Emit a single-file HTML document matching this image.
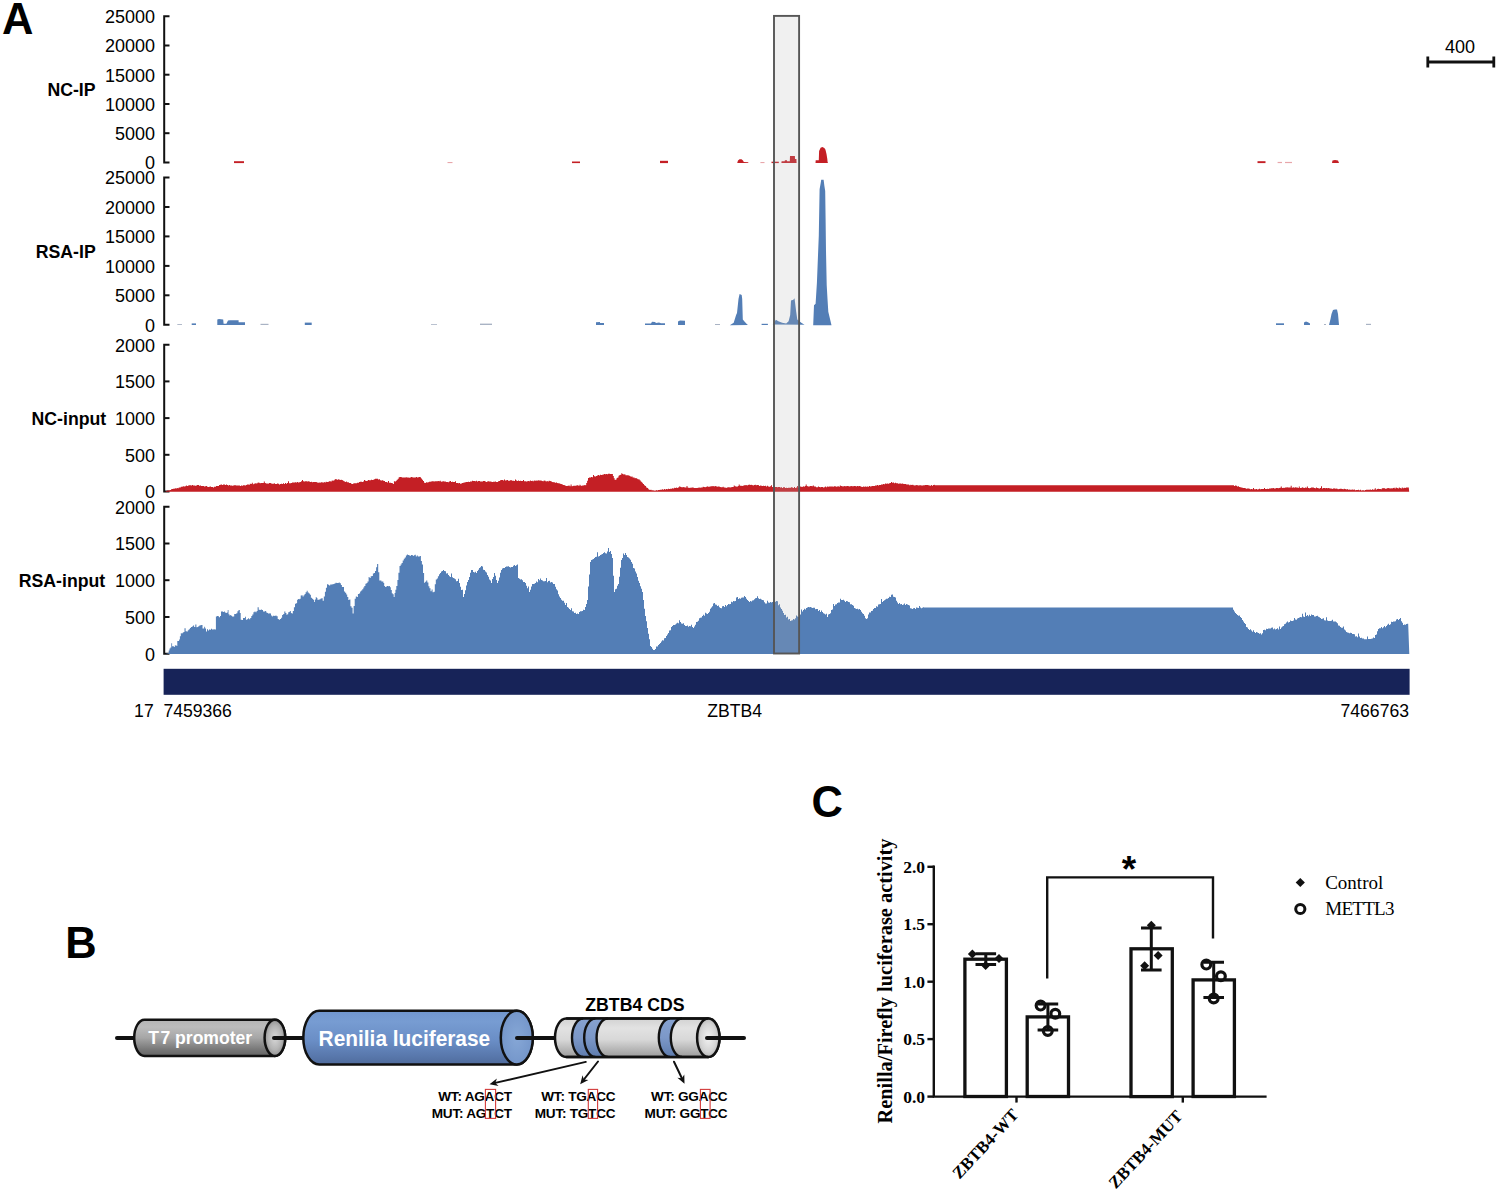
<!DOCTYPE html>
<html><head><meta charset="utf-8"><title>Figure</title>
<style>
html,body{margin:0;padding:0;background:#fff;}
body{width:1499px;height:1196px;overflow:hidden;}
svg{display:block;}
text{font-family:"Liberation Sans",sans-serif;fill:#000;}
.big{font-size:43.5px;font-weight:bold;}
.tl{font-size:18px;text-anchor:end;}
.lab{font-size:17.7px;font-weight:bold;text-anchor:end;}
.cyt{fill:#fff;font-weight:bold;}
.seq{font-size:13.6px;font-weight:bold;text-anchor:end;letter-spacing:-0.25px;}
.ctl{font-family:"Liberation Serif",serif;font-weight:bold;font-size:17.5px;text-anchor:end;}
.cyl{font-family:"Liberation Serif",serif;font-weight:bold;font-size:20.4px;}
.leg{font-family:"Liberation Serif",serif;font-size:19px;}
.xl{font-family:"Liberation Serif",serif;font-weight:bold;font-size:17px;text-anchor:end;}
.star{font-size:37px;font-weight:bold;}
</style></head><body>
<svg width="1499" height="1196" viewBox="0 0 1499 1196">
<defs>
<linearGradient id="gG" x1="0" y1="0" x2="0" y2="1">
 <stop offset="0" stop-color="#b4b4b4"/><stop offset="0.2" stop-color="#bcbcbc"/><stop offset="0.5" stop-color="#a6a6a6"/><stop offset="0.85" stop-color="#747474"/><stop offset="1" stop-color="#646464"/>
</linearGradient>
<radialGradient id="rG" cx="0.5" cy="0.5" r="0.6">
 <stop offset="0" stop-color="#d8d8d8"/><stop offset="0.55" stop-color="#b4b4b4"/><stop offset="1" stop-color="#808080"/>
</radialGradient>
<linearGradient id="gB" x1="0" y1="0" x2="0" y2="1">
 <stop offset="0" stop-color="#7196ce"/><stop offset="0.2" stop-color="#779cd2"/><stop offset="0.55" stop-color="#6a8ec6"/><stop offset="0.85" stop-color="#5877ab"/><stop offset="1" stop-color="#4f6b9c"/>
</linearGradient>
<radialGradient id="rB" cx="0.5" cy="0.5" r="0.6">
 <stop offset="0" stop-color="#86a7d6"/><stop offset="1" stop-color="#7193c8"/>
</radialGradient>
<linearGradient id="gL" x1="0" y1="0" x2="0" y2="1">
 <stop offset="0" stop-color="#d2d2d2"/><stop offset="0.25" stop-color="#e2e2e2"/><stop offset="0.55" stop-color="#d8d8d8"/><stop offset="0.85" stop-color="#b0b0b0"/><stop offset="1" stop-color="#9c9c9c"/>
</linearGradient>
<radialGradient id="rL" cx="0.5" cy="0.5" r="0.6">
 <stop offset="0" stop-color="#f2f2f2"/><stop offset="0.6" stop-color="#d4d4d4"/><stop offset="1" stop-color="#a8a8a8"/>
</radialGradient>
<linearGradient id="gBand" x1="0" y1="0" x2="0" y2="1">
 <stop offset="0" stop-color="#86a2d0"/><stop offset="0.5" stop-color="#7c98c8"/><stop offset="1" stop-color="#5f7cae"/>
</linearGradient>
</defs>
<text x="2" y="33.6" class="big">A</text>
<text x="1460" y="53.4" class="tl" style="text-anchor:middle">400</text>
<path d="M1426.5 62 H1494.5 M1427.8 56.5 V67.5 M1493.8 56.5 V67.5" stroke="#111" stroke-width="2.8" fill="none"/>
<path d="M169.5 16.2 H164.2 V162.5 H169.5" fill="none" stroke="#111" stroke-width="2"/>
<path d="M164 45.5 H169.5" stroke="#111" stroke-width="2"/>
<path d="M164 74.7 H169.5" stroke="#111" stroke-width="2"/>
<path d="M164 104.0 H169.5" stroke="#111" stroke-width="2"/>
<path d="M164 133.2 H169.5" stroke="#111" stroke-width="2"/>
<text x="155" y="23.0" class="tl">25000</text>
<text x="155" y="52.3" class="tl">20000</text>
<text x="155" y="81.5" class="tl">15000</text>
<text x="155" y="110.8" class="tl">10000</text>
<text x="155" y="140.0" class="tl">5000</text>
<text x="155" y="169.3" class="tl">0</text>
<path d="M169.5 177.6 H164.2 V324.7 H169.5" fill="none" stroke="#111" stroke-width="2"/>
<path d="M164 207.0 H169.5" stroke="#111" stroke-width="2"/>
<path d="M164 236.4 H169.5" stroke="#111" stroke-width="2"/>
<path d="M164 265.9 H169.5" stroke="#111" stroke-width="2"/>
<path d="M164 295.3 H169.5" stroke="#111" stroke-width="2"/>
<text x="155" y="184.4" class="tl">25000</text>
<text x="155" y="213.8" class="tl">20000</text>
<text x="155" y="243.2" class="tl">15000</text>
<text x="155" y="272.7" class="tl">10000</text>
<text x="155" y="302.1" class="tl">5000</text>
<text x="155" y="331.5" class="tl">0</text>
<path d="M169.5 344.7 H164.2 V491.5 H169.5" fill="none" stroke="#111" stroke-width="2"/>
<path d="M164 381.4 H169.5" stroke="#111" stroke-width="2"/>
<path d="M164 418.1 H169.5" stroke="#111" stroke-width="2"/>
<path d="M164 454.8 H169.5" stroke="#111" stroke-width="2"/>
<text x="155" y="351.5" class="tl">2000</text>
<text x="155" y="388.2" class="tl">1500</text>
<text x="155" y="424.9" class="tl">1000</text>
<text x="155" y="461.6" class="tl">500</text>
<text x="155" y="498.3" class="tl">0</text>
<path d="M169.5 506.7 H164.2 V653.8 H169.5" fill="none" stroke="#111" stroke-width="2"/>
<path d="M164 543.5 H169.5" stroke="#111" stroke-width="2"/>
<path d="M164 580.2 H169.5" stroke="#111" stroke-width="2"/>
<path d="M164 617.0 H169.5" stroke="#111" stroke-width="2"/>
<text x="155" y="513.5" class="tl">2000</text>
<text x="155" y="550.3" class="tl">1500</text>
<text x="155" y="587.0" class="tl">1000</text>
<text x="155" y="623.8" class="tl">500</text>
<text x="155" y="660.6" class="tl">0</text>
<text x="95.6" y="96" class="lab">NC-IP</text>
<text x="95.7" y="258.1" class="lab">RSA-IP</text>
<text x="106.2" y="425" class="lab">NC-input</text>
<text x="105.2" y="587.2" class="lab">RSA-input</text>
<path d="M234.0 163.1 L234.0 161.2 L244.0 161.2 L244.0 163.1 Z" fill="#c41f25"/>
<path d="M572.0 163.1 L572.0 161.5 L580.0 161.5 L580.0 163.1 Z" fill="#c41f25"/>
<path d="M660.0 163.1 L660.0 160.8 L668.0 160.8 L668.0 163.1 Z" fill="#c41f25"/>
<path d="M737.2 163.1 L738.0 160.6 L739.5 159.3 L741.5 159.2 L743.0 160.4 L743.8 162.0 L748.3 162.2 L748.3 163.1 Z" fill="#c41f25"/>
<path d="M771.5 163.1 L771.5 161.7 L778.8 161.7 L778.8 163.1 Z" fill="#c41f25"/>
<path d="M781.4 163.1 L781.6 161.3 L784.7 161.3 L784.9 160.2 L786.9 160.2 L787.1 161.3 L789.8 161.3 L790.0 156.0 L794.9 156.0 L795.0 159.1 L796.4 159.1 L796.6 163.1 Z" fill="#c41f25"/>
<path d="M815.5 163.1 L815.7 160.3 L818.8 160.2 L819.1 151.0 L820.6 147.8 L822.4 147.0 L824.3 147.9 L825.4 149.5 L826.5 154.0 L827.3 159.0 L827.6 162.0 L828.0 163.1 Z" fill="#c41f25"/>
<path d="M1257.5 163.1 L1257.5 161.2 L1265.5 161.2 L1265.5 163.1 Z" fill="#c41f25"/>
<path d="M1332.0 163.1 L1332.5 160.4 L1335.0 160.0 L1338.0 160.4 L1339.0 163.1 Z" fill="#c41f25"/>
<path d="M1277.6 163.1 L1277.6 161.9 L1282.0 161.9 L1282.0 163.1 Z" fill="#e8a6aa"/>
<path d="M1285.0 163.1 L1285.0 161.9 L1292.0 161.9 L1292.0 163.1 Z" fill="#e8a6aa"/>
<path d="M760.4 163.1 L760.4 162.0 L764.5 162.0 L764.5 163.1 Z" fill="#e8a6aa"/>
<path d="M447.5 163.1 L447.5 162.0 L452.5 162.0 L452.5 163.1 Z" fill="#e8a6aa"/>
<path d="M191.7 325.0 L191.7 323.4 L196.0 323.4 L196.0 325.0 Z" fill="#537eb6"/>
<path d="M217.3 325.0 L217.3 319.4 L219.0 319.0 L223.2 319.4 L223.6 323.8 L226.4 323.8 L228.0 320.5 L230.0 320.2 L238.6 320.2 L238.6 322.2 L245.0 322.2 L245.0 325.0 Z" fill="#537eb6"/>
<path d="M304.8 325.0 L304.8 322.6 L311.7 322.6 L311.7 325.0 Z" fill="#537eb6"/>
<path d="M596.0 325.0 L596.0 322.2 L600.0 322.0 L600.0 322.9 L604.0 322.9 L604.0 325.0 Z" fill="#537eb6"/>
<path d="M645.0 325.0 L645.0 323.5 L651.0 323.4 L652.0 321.8 L655.0 322.0 L656.0 323.0 L659.0 322.6 L661.0 323.3 L665.0 323.3 L665.0 325.0 Z" fill="#537eb6"/>
<path d="M678.0 325.0 L678.0 321.6 L680.0 320.6 L685.0 320.8 L685.0 325.0 Z" fill="#537eb6"/>
<path d="M729.8 325.2 L733.7 322.8 L736.1 315.0 L737.0 313.0 L738.5 299.0 L739.6 293.9 L741.7 295.0 L742.2 299.0 L742.8 319.6 L744.9 322.0 L747.3 324.4 L748.0 325.0 Z" fill="#537eb6"/>
<path d="M761.6 325.0 L761.6 323.8 L767.9 323.8 L767.9 325.0 Z" fill="#537eb6"/>
<path d="M772.7 324.4 L775.9 319.8 L778.3 321.2 L782.2 322.8 L786.2 323.6 L788.6 321.2 L790.2 315.0 L791.0 300.6 L793.4 299.8 L794.5 298.2 L795.0 302.0 L796.2 311.7 L797.3 319.6 L801.3 322.8 L804.5 324.7 Z" fill="#537eb6"/>
<path d="M813.2 325.2 L814.0 305.3 L815.6 303.8 L816.9 283.0 L818.8 235.4 L819.6 189.3 L820.7 183.0 L821.2 179.7 L823.6 179.7 L824.4 186.0 L825.2 191.0 L825.6 219.0 L826.0 251.0 L826.7 285.0 L827.5 299.0 L828.3 311.7 L831.5 325.2 Z" fill="#537eb6"/>
<path d="M1276.0 325.0 L1276.0 323.3 L1284.0 323.3 L1284.0 325.0 Z" fill="#537eb6"/>
<path d="M1304.0 325.0 L1304.0 322.5 L1306.0 321.6 L1308.0 322.2 L1310.0 323.5 L1310.0 325.0 Z" fill="#537eb6"/>
<path d="M1329.0 325.0 L1330.5 319.0 L1331.5 314.0 L1333.0 310.0 L1335.0 309.4 L1337.0 309.6 L1338.0 314.0 L1339.0 325.0 Z" fill="#537eb6"/>
<path d="M177.3 325.0 L177.3 324.1 L182.0 324.1 L182.0 325.0 Z" fill="#a9b3c4"/>
<path d="M260.5 325.0 L260.5 323.8 L268.5 323.8 L268.5 325.0 Z" fill="#a9b3c4"/>
<path d="M431.0 325.0 L431.0 324.2 L437.0 324.2 L437.0 325.0 Z" fill="#a9b3c4"/>
<path d="M480.0 325.0 L480.0 323.6 L492.0 323.6 L492.0 325.0 Z" fill="#a9b3c4"/>
<path d="M715.0 325.0 L715.0 324.0 L720.0 324.0 L720.0 325.0 Z" fill="#a9b3c4"/>
<path d="M1324.0 325.0 L1324.0 324.0 L1326.0 324.0 L1326.0 325.0 Z" fill="#a9b3c4"/>
<path d="M1366.0 325.0 L1366.0 323.8 L1371.0 323.8 L1371.0 325.0 Z" fill="#a9b3c4"/>
<path d="M164.0 491.7 L164.0 491.7 L165.0 491.7 L165.0 491.4 L166.0 491.4 L166.0 491.0 L167.0 491.0 L167.0 490.6 L168.0 490.6 L168.0 490.6 L169.0 490.6 L169.0 490.3 L170.0 490.3 L170.0 490.0 L171.0 490.0 L171.0 489.3 L171.9 489.3 L171.9 489.0 L172.9 489.0 L172.9 488.8 L173.9 488.8 L173.9 488.8 L174.8 488.8 L174.8 488.3 L175.8 488.3 L175.8 488.4 L176.8 488.4 L176.8 488.1 L177.7 488.1 L177.7 488.2 L178.7 488.2 L178.7 487.5 L179.7 487.5 L179.7 487.6 L180.8 487.6 L180.8 486.7 L181.8 486.7 L181.8 486.7 L182.8 486.7 L182.8 486.3 L183.8 486.3 L183.8 486.5 L184.9 486.5 L184.9 486.2 L185.9 486.2 L185.9 485.6 L186.9 485.6 L186.9 485.9 L188.0 485.9 L188.0 485.4 L189.0 485.4 L189.0 485.3 L190.0 485.3 L190.0 485.3 L191.0 485.3 L191.0 485.6 L192.0 485.6 L192.0 485.1 L193.0 485.1 L193.0 485.4 L194.0 485.4 L194.0 485.6 L195.0 485.6 L195.0 485.8 L196.0 485.8 L196.0 485.4 L197.0 485.4 L197.0 485.1 L198.0 485.1 L198.0 485.0 L199.0 485.0 L199.0 485.7 L200.0 485.7 L200.0 485.5 L201.0 485.5 L201.0 486.0 L202.0 486.0 L202.0 486.0 L203.0 486.0 L203.0 486.0 L204.0 486.0 L204.0 486.4 L205.0 486.4 L205.0 486.2 L206.0 486.2 L206.0 486.0 L207.0 486.0 L207.0 486.7 L208.0 486.7 L208.0 487.0 L209.0 487.0 L209.0 486.8 L210.0 486.8 L210.0 486.6 L211.0 486.6 L211.0 486.9 L212.0 486.9 L212.0 486.9 L213.0 486.9 L213.0 487.5 L214.0 487.5 L214.0 486.8 L215.0 486.8 L215.0 486.7 L216.0 486.7 L216.0 486.0 L217.0 486.0 L217.0 486.0 L218.0 486.0 L218.0 485.9 L219.0 485.9 L219.0 485.1 L220.0 485.1 L220.0 484.7 L221.0 484.7 L221.0 484.5 L222.0 484.5 L222.0 485.0 L223.0 485.0 L223.0 484.4 L224.0 484.4 L224.0 484.5 L225.0 484.5 L225.0 484.9 L226.0 484.9 L226.0 484.4 L227.0 484.4 L227.0 484.9 L228.0 484.9 L228.0 485.5 L229.0 485.5 L229.0 485.1 L230.0 485.1 L230.0 485.4 L231.0 485.4 L231.0 485.6 L232.0 485.6 L232.0 485.7 L233.0 485.7 L233.0 485.4 L234.0 485.4 L234.0 485.2 L235.0 485.2 L235.0 485.2 L236.0 485.2 L236.0 485.4 L237.0 485.4 L237.0 485.6 L238.0 485.6 L238.0 485.4 L239.0 485.4 L239.0 485.6 L240.0 485.6 L240.0 486.0 L241.0 486.0 L241.0 485.4 L242.0 485.4 L242.0 485.8 L243.0 485.8 L243.0 485.3 L243.9 485.3 L243.9 485.2 L244.9 485.2 L244.9 485.4 L245.9 485.4 L245.9 484.9 L246.9 484.9 L246.9 484.4 L247.9 484.4 L247.9 484.5 L248.9 484.5 L248.9 484.7 L249.8 484.7 L249.8 483.8 L250.8 483.8 L250.8 484.1 L251.8 484.1 L251.8 482.7 L252.8 482.7 L252.8 484.2 L253.8 484.2 L253.8 483.7 L254.8 483.7 L254.8 483.3 L255.7 483.3 L255.7 483.5 L256.7 483.5 L256.7 483.3 L257.7 483.3 L257.7 482.6 L258.7 482.6 L258.7 482.7 L259.7 482.7 L259.7 483.2 L260.7 483.2 L260.7 483.1 L261.7 483.1 L261.7 483.1 L262.8 483.1 L262.8 483.0 L263.8 483.0 L263.8 481.4 L264.8 481.4 L264.8 482.9 L265.8 482.9 L265.8 483.5 L266.8 483.5 L266.8 483.6 L267.8 483.6 L267.8 483.7 L268.8 483.7 L268.8 483.1 L269.9 483.1 L269.9 483.1 L270.9 483.1 L270.9 483.6 L271.9 483.6 L271.9 483.8 L272.9 483.8 L272.9 483.7 L273.9 483.7 L273.9 483.3 L274.9 483.3 L274.9 484.1 L275.9 484.1 L275.9 484.0 L277.0 484.0 L277.0 483.5 L278.0 483.5 L278.0 483.7 L279.0 483.7 L279.0 484.4 L280.0 484.4 L280.0 484.0 L281.0 484.0 L281.0 483.8 L282.0 483.8 L282.0 484.0 L283.0 484.0 L283.0 483.3 L284.0 483.3 L284.0 483.9 L285.0 483.9 L285.0 483.1 L286.0 483.1 L286.0 483.8 L287.0 483.8 L287.0 483.1 L288.0 483.1 L288.0 481.3 L289.0 481.3 L289.0 483.2 L290.0 483.2 L290.0 483.3 L291.0 483.3 L291.0 483.1 L292.0 483.1 L292.0 482.4 L293.0 482.4 L293.0 482.4 L294.0 482.4 L294.0 482.6 L295.0 482.6 L295.0 482.3 L296.0 482.3 L296.0 482.6 L297.0 482.6 L297.0 482.1 L298.0 482.1 L298.0 482.4 L299.0 482.4 L299.0 482.3 L300.0 482.3 L300.0 481.9 L301.0 481.9 L301.0 481.3 L302.0 481.3 L302.0 479.9 L303.0 479.9 L303.0 481.2 L304.0 481.2 L304.0 481.6 L305.0 481.6 L305.0 481.3 L306.0 481.3 L306.0 481.2 L307.0 481.2 L307.0 481.5 L307.9 481.5 L307.9 481.2 L308.9 481.2 L308.9 481.4 L309.9 481.4 L309.9 481.9 L310.9 481.9 L310.9 481.8 L311.9 481.8 L311.9 482.2 L312.9 482.2 L312.9 482.0 L313.9 482.0 L313.9 482.0 L314.8 482.0 L314.8 482.0 L315.8 482.0 L315.8 482.1 L316.8 482.1 L316.8 482.4 L317.8 482.4 L317.8 482.7 L318.8 482.7 L318.8 482.4 L319.8 482.4 L319.8 482.8 L320.7 482.8 L320.7 482.2 L321.7 482.2 L321.7 482.2 L322.7 482.2 L322.7 482.7 L323.7 482.7 L323.7 482.1 L324.7 482.1 L324.7 482.6 L325.7 482.6 L325.7 481.8 L326.7 481.8 L326.7 482.0 L327.7 482.0 L327.7 482.0 L328.7 482.0 L328.7 481.2 L329.7 481.2 L329.7 481.2 L330.7 481.2 L330.7 481.5 L331.7 481.5 L331.7 480.6 L332.7 480.6 L332.7 480.7 L333.7 480.7 L333.7 480.2 L334.7 480.2 L334.7 479.2 L335.7 479.2 L335.7 478.9 L336.7 478.9 L336.7 480.0 L337.7 480.0 L337.7 479.3 L338.7 479.3 L338.7 479.5 L339.7 479.5 L339.7 480.1 L340.7 480.1 L340.7 479.8 L341.8 479.8 L341.8 480.1 L342.8 480.1 L342.8 480.7 L343.8 480.7 L343.8 481.2 L344.8 481.2 L344.8 481.9 L345.9 481.9 L345.9 481.6 L346.9 481.6 L346.9 482.3 L347.9 482.3 L347.9 482.2 L348.9 482.2 L348.9 483.1 L350.0 483.1 L350.0 482.9 L351.0 482.9 L351.0 483.8 L352.0 483.8 L352.0 484.0 L353.0 484.0 L353.0 483.4 L354.0 483.4 L354.0 483.2 L355.0 483.2 L355.0 483.3 L356.0 483.3 L356.0 483.2 L357.0 483.2 L357.0 482.7 L358.0 482.7 L358.0 482.7 L359.0 482.7 L359.0 482.1 L360.0 482.1 L360.0 481.8 L361.0 481.8 L361.0 481.8 L362.0 481.8 L362.0 482.0 L363.0 482.0 L363.0 481.6 L364.0 481.6 L364.0 480.1 L365.0 480.1 L365.0 480.7 L366.0 480.7 L366.0 481.0 L367.0 481.0 L367.0 480.7 L368.0 480.7 L368.0 480.1 L369.0 480.1 L369.0 480.2 L370.0 480.2 L370.0 480.3 L371.0 480.3 L371.0 479.8 L372.0 479.8 L372.0 480.0 L373.0 480.0 L373.0 479.7 L374.0 479.7 L374.0 479.3 L375.0 479.3 L375.0 478.8 L376.0 478.8 L376.0 478.7 L377.0 478.7 L377.0 478.7 L378.0 478.7 L378.0 479.5 L379.0 479.5 L379.0 479.3 L380.0 479.3 L380.0 480.3 L381.0 480.3 L381.0 480.4 L382.0 480.4 L382.0 480.3 L383.0 480.3 L383.0 480.8 L384.0 480.8 L384.0 481.1 L385.0 481.1 L385.0 481.9 L386.0 481.9 L386.0 481.9 L387.0 481.9 L387.0 482.5 L388.0 482.5 L388.0 481.1 L389.0 481.1 L389.0 482.7 L390.0 482.7 L390.0 482.8 L391.0 482.8 L391.0 482.9 L392.0 482.9 L392.0 483.3 L393.0 483.3 L393.0 484.0 L393.9 484.0 L393.9 481.3 L394.9 481.3 L394.9 481.5 L395.9 481.5 L395.9 480.7 L396.8 480.7 L396.8 479.7 L397.8 479.7 L397.8 478.8 L398.7 478.8 L398.7 477.3 L399.7 477.3 L399.7 477.1 L400.7 477.1 L400.7 477.0 L401.7 477.0 L401.7 477.4 L402.8 477.4 L402.8 477.6 L403.8 477.6 L403.8 477.4 L404.8 477.4 L404.8 477.6 L405.8 477.6 L405.8 477.3 L406.8 477.3 L406.8 477.6 L407.8 477.6 L407.8 477.6 L408.8 477.6 L408.8 477.7 L409.9 477.7 L409.9 477.5 L410.9 477.5 L410.9 476.9 L411.9 476.9 L411.9 477.2 L412.9 477.2 L412.9 477.6 L413.9 477.6 L413.9 477.4 L414.9 477.4 L414.9 477.5 L415.9 477.5 L415.9 476.9 L417.0 476.9 L417.0 477.5 L418.0 477.5 L418.0 477.3 L419.0 477.3 L419.0 476.9 L420.0 476.9 L420.0 477.3 L421.0 477.3 L421.0 478.4 L422.0 478.4 L422.0 479.8 L423.0 479.8 L423.0 481.1 L424.0 481.1 L424.0 482.7 L425.0 482.7 L425.0 483.0 L425.9 483.0 L425.9 482.3 L426.9 482.3 L426.9 482.5 L427.9 482.5 L427.9 482.3 L428.9 482.3 L428.9 481.7 L429.8 481.7 L429.8 481.7 L430.8 481.7 L430.8 481.6 L431.8 481.6 L431.8 481.2 L432.8 481.2 L432.8 481.3 L433.7 481.3 L433.7 481.6 L434.7 481.6 L434.7 481.3 L435.7 481.3 L435.7 481.2 L436.7 481.2 L436.7 481.3 L437.8 481.3 L437.8 481.1 L438.8 481.1 L438.8 481.2 L439.8 481.2 L439.8 480.7 L440.8 480.7 L440.8 481.8 L441.8 481.8 L441.8 481.5 L442.8 481.5 L442.8 481.3 L443.9 481.3 L443.9 481.4 L444.9 481.4 L444.9 481.4 L445.9 481.4 L445.9 482.1 L446.9 482.1 L446.9 482.1 L447.9 482.1 L447.9 482.2 L448.9 482.2 L448.9 481.6 L449.9 481.6 L449.9 480.9 L451.0 480.9 L451.0 481.9 L452.0 481.9 L452.0 481.8 L453.0 481.8 L453.0 482.0 L454.0 482.0 L454.0 482.0 L455.0 482.0 L455.0 481.3 L456.0 481.3 L456.0 482.9 L457.0 482.9 L457.0 483.1 L458.0 483.1 L458.0 483.3 L459.0 483.3 L459.0 483.0 L460.0 483.0 L460.0 483.8 L461.0 483.8 L461.0 483.5 L462.0 483.5 L462.0 483.1 L463.0 483.1 L463.0 482.8 L464.0 482.8 L464.0 482.4 L465.0 482.4 L465.0 482.3 L466.0 482.3 L466.0 482.0 L467.0 482.0 L467.0 482.0 L468.0 482.0 L468.0 481.7 L469.0 481.7 L469.0 481.9 L470.0 481.9 L470.0 481.4 L471.0 481.4 L471.0 481.4 L472.0 481.4 L472.0 480.8 L473.0 480.8 L473.0 481.0 L474.0 481.0 L474.0 481.1 L475.0 481.1 L475.0 481.2 L476.0 481.2 L476.0 480.8 L477.0 480.8 L477.0 481.4 L478.0 481.4 L478.0 481.1 L479.0 481.1 L479.0 481.0 L480.0 481.0 L480.0 481.6 L481.0 481.6 L481.0 481.4 L482.0 481.4 L482.0 481.4 L483.0 481.4 L483.0 481.1 L484.0 481.1 L484.0 481.1 L485.0 481.1 L485.0 481.4 L486.0 481.4 L486.0 481.9 L487.0 481.9 L487.0 481.5 L488.0 481.5 L488.0 481.3 L489.0 481.3 L489.0 481.5 L490.0 481.5 L490.0 481.5 L491.0 481.5 L491.0 481.8 L492.0 481.8 L492.0 482.0 L493.0 482.0 L493.0 481.8 L494.0 481.8 L494.0 481.8 L495.0 481.8 L495.0 481.6 L496.0 481.6 L496.0 482.0 L497.0 482.0 L497.0 482.0 L498.0 482.0 L498.0 481.2 L499.0 481.2 L499.0 481.1 L500.0 481.1 L500.0 480.2 L501.0 480.2 L501.0 480.0 L502.0 480.0 L502.0 480.0 L503.0 480.0 L503.0 480.5 L504.0 480.5 L504.0 479.5 L505.0 479.5 L505.0 480.4 L506.0 480.4 L506.0 480.2 L507.0 480.2 L507.0 479.9 L508.0 479.9 L508.0 480.8 L509.0 480.8 L509.0 480.8 L510.0 480.8 L510.0 480.3 L511.0 480.3 L511.0 480.2 L512.0 480.2 L512.0 480.8 L513.0 480.8 L513.0 480.8 L514.0 480.8 L514.0 480.9 L515.0 480.9 L515.0 479.4 L516.0 479.4 L516.0 480.6 L517.0 480.6 L517.0 481.0 L518.0 481.0 L518.0 480.6 L519.0 480.6 L519.0 481.1 L520.0 481.1 L520.0 480.7 L521.0 480.7 L521.0 481.1 L522.0 481.1 L522.0 481.0 L523.0 481.0 L523.0 480.1 L524.0 480.1 L524.0 481.2 L525.0 481.2 L525.0 481.3 L526.0 481.3 L526.0 481.4 L527.0 481.4 L527.0 481.2 L527.9 481.2 L527.9 480.9 L528.9 480.9 L528.9 481.3 L529.9 481.3 L529.9 480.6 L530.9 480.6 L530.9 481.1 L531.9 481.1 L531.9 480.7 L532.8 480.7 L532.8 481.2 L533.8 481.2 L533.8 480.4 L534.8 480.4 L534.8 480.7 L535.8 480.7 L535.8 480.4 L536.7 480.4 L536.7 480.8 L537.7 480.8 L537.7 480.3 L538.7 480.3 L538.7 480.5 L539.7 480.5 L539.7 480.4 L540.7 480.4 L540.7 480.4 L541.7 480.4 L541.7 480.9 L542.7 480.9 L542.7 481.2 L543.7 481.2 L543.7 480.6 L544.7 480.6 L544.7 480.8 L545.7 480.8 L545.7 481.4 L546.7 481.4 L546.7 480.9 L547.7 480.9 L547.7 481.5 L548.7 481.5 L548.7 480.8 L549.7 480.8 L549.7 481.1 L550.7 481.1 L550.7 481.3 L551.7 481.3 L551.7 481.9 L552.7 481.9 L552.7 482.3 L553.7 482.3 L553.7 482.0 L554.7 482.0 L554.7 482.9 L555.7 482.9 L555.7 482.3 L556.7 482.3 L556.7 483.0 L557.7 483.0 L557.7 483.2 L558.7 483.2 L558.7 483.2 L559.7 483.2 L559.7 483.8 L560.7 483.8 L560.7 483.9 L561.7 483.9 L561.7 484.3 L562.7 484.3 L562.7 485.1 L563.7 485.1 L563.7 485.1 L564.7 485.1 L564.7 485.4 L565.7 485.4 L565.7 486.1 L566.7 486.1 L566.7 486.0 L567.7 486.0 L567.7 485.8 L568.7 485.8 L568.7 485.5 L569.6 485.5 L569.6 486.2 L570.6 486.2 L570.6 484.4 L571.6 484.4 L571.6 486.2 L572.6 486.2 L572.6 486.0 L573.6 486.0 L573.6 485.6 L574.5 485.6 L574.5 486.1 L575.5 486.1 L575.5 485.5 L576.5 485.5 L576.5 485.5 L577.5 485.5 L577.5 485.1 L578.4 485.1 L578.4 485.9 L579.4 485.9 L579.4 484.8 L580.4 484.8 L580.4 485.5 L581.4 485.5 L581.4 485.9 L582.4 485.9 L582.4 485.2 L583.3 485.2 L583.3 485.4 L584.3 485.4 L584.3 485.1 L585.3 485.1 L585.3 485.3 L586.2 485.3 L586.2 483.1 L587.1 483.1 L587.1 480.7 L588.0 480.7 L588.0 478.0 L589.0 478.0 L589.0 477.6 L590.0 477.6 L590.0 477.4 L591.0 477.4 L591.0 476.9 L592.0 476.9 L592.0 477.2 L593.0 477.2 L593.0 475.1 L594.0 475.1 L594.0 476.3 L595.0 476.3 L595.0 476.6 L596.0 476.6 L596.0 476.0 L597.0 476.0 L597.0 475.5 L598.0 475.5 L598.0 475.1 L599.0 475.1 L599.0 475.4 L600.0 475.4 L600.0 474.8 L601.0 474.8 L601.0 474.9 L602.0 474.9 L602.0 474.7 L603.0 474.7 L603.0 474.4 L604.0 474.4 L604.0 474.0 L605.0 474.0 L605.0 474.3 L606.0 474.3 L606.0 474.1 L607.0 474.1 L607.0 474.2 L608.0 474.2 L608.0 473.8 L609.0 473.8 L609.0 473.7 L610.0 473.7 L610.0 474.1 L611.0 474.1 L611.0 473.9 L612.0 473.9 L612.0 474.0 L612.9 474.0 L612.9 476.0 L613.8 476.0 L613.8 478.3 L614.7 478.3 L614.7 480.0 L615.6 480.0 L615.6 479.5 L616.6 479.5 L616.6 478.1 L617.5 478.1 L617.5 477.4 L618.5 477.4 L618.5 475.8 L619.4 475.8 L619.4 474.9 L620.4 474.9 L620.4 474.7 L621.3 474.7 L621.3 473.3 L622.3 473.3 L622.3 474.1 L623.3 474.1 L623.3 474.4 L624.4 474.4 L624.4 474.2 L625.4 474.2 L625.4 475.2 L626.4 475.2 L626.4 475.2 L627.4 475.2 L627.4 475.2 L628.5 475.2 L628.5 475.5 L629.5 475.5 L629.5 476.0 L630.5 476.0 L630.5 476.7 L631.5 476.7 L631.5 476.5 L632.6 476.5 L632.6 477.5 L633.6 477.5 L633.6 477.5 L634.6 477.5 L634.6 478.3 L635.6 478.3 L635.6 478.0 L636.7 478.0 L636.7 478.7 L637.7 478.7 L637.7 479.3 L638.7 479.3 L638.7 479.5 L639.8 479.5 L639.8 480.4 L640.8 480.4 L640.8 481.7 L641.9 481.7 L641.9 482.8 L642.9 482.8 L642.9 484.0 L644.0 484.0 L644.0 485.3 L645.1 485.3 L645.1 486.1 L646.1 486.1 L646.1 487.5 L647.2 487.5 L647.2 488.0 L648.2 488.0 L648.2 489.3 L649.3 489.3 L649.3 490.0 L650.4 490.0 L650.4 489.7 L651.5 489.7 L651.5 490.2 L652.5 490.2 L652.5 490.3 L653.6 490.3 L653.6 490.5 L654.7 490.5 L654.7 490.7 L655.7 490.7 L655.7 490.1 L656.7 490.1 L656.7 490.5 L657.8 490.5 L657.8 489.9 L658.8 489.9 L658.8 490.0 L659.8 490.0 L659.8 489.7 L660.8 489.7 L660.8 489.8 L661.9 489.8 L661.9 489.3 L662.9 489.3 L662.9 489.8 L663.9 489.8 L663.9 489.1 L664.9 489.1 L664.9 489.6 L666.0 489.6 L666.0 489.1 L667.0 489.1 L667.0 489.3 L668.0 489.3 L668.0 488.8 L669.0 488.8 L669.0 489.0 L670.0 489.0 L670.0 488.8 L671.1 488.8 L671.1 488.7 L672.1 488.7 L672.1 488.2 L673.1 488.2 L673.1 488.5 L674.1 488.5 L674.1 487.8 L675.2 487.8 L675.2 488.0 L676.2 488.0 L676.2 487.5 L677.2 487.5 L677.2 487.9 L678.2 487.9 L678.2 487.2 L679.3 487.2 L679.3 486.3 L680.3 486.3 L680.3 487.0 L681.3 487.0 L681.3 487.2 L682.3 487.2 L682.3 487.3 L683.4 487.3 L683.4 487.1 L684.4 487.1 L684.4 487.5 L685.4 487.5 L685.4 487.6 L686.5 487.6 L686.5 486.1 L687.5 486.1 L687.5 487.6 L688.5 487.6 L688.5 487.9 L689.5 487.9 L689.5 487.7 L690.6 487.7 L690.6 487.7 L691.6 487.7 L691.6 487.5 L692.6 487.5 L692.6 487.5 L693.7 487.5 L693.7 487.9 L694.7 487.9 L694.7 488.0 L695.7 488.0 L695.7 488.0 L696.7 488.0 L696.7 488.0 L697.7 488.0 L697.7 487.7 L698.7 487.7 L698.7 487.6 L699.7 487.6 L699.7 487.8 L700.7 487.8 L700.7 487.6 L701.7 487.6 L701.7 487.4 L702.7 487.4 L702.7 486.8 L703.7 486.8 L703.7 487.0 L704.7 487.0 L704.7 487.2 L705.7 487.2 L705.7 487.0 L706.7 487.0 L706.7 486.3 L707.7 486.3 L707.7 486.8 L708.7 486.8 L708.7 486.8 L709.7 486.8 L709.7 486.6 L710.7 486.6 L710.7 486.2 L711.7 486.2 L711.7 486.3 L712.7 486.3 L712.7 486.1 L713.7 486.1 L713.7 486.4 L714.7 486.4 L714.7 486.1 L715.7 486.1 L715.7 486.3 L716.7 486.3 L716.7 486.8 L717.7 486.8 L717.7 486.5 L718.7 486.5 L718.7 486.5 L719.7 486.5 L719.7 487.1 L720.7 487.1 L720.7 487.3 L721.7 487.3 L721.7 487.2 L722.7 487.2 L722.7 486.8 L723.7 486.8 L723.7 487.4 L724.7 487.4 L724.7 487.6 L725.7 487.6 L725.7 487.9 L726.7 487.9 L726.7 487.5 L727.7 487.5 L727.7 487.3 L728.7 487.3 L728.7 487.2 L729.7 487.2 L729.7 487.4 L730.7 487.4 L730.7 487.3 L731.7 487.3 L731.7 487.1 L732.7 487.1 L732.7 486.9 L733.7 486.9 L733.7 485.5 L734.7 485.5 L734.7 486.3 L735.7 486.3 L735.7 486.4 L736.7 486.4 L736.7 486.7 L737.7 486.7 L737.7 486.0 L738.7 486.0 L738.7 484.5 L739.7 484.5 L739.7 485.7 L740.7 485.7 L740.7 485.7 L741.7 485.7 L741.7 485.9 L742.7 485.9 L742.7 485.8 L743.7 485.8 L743.7 485.3 L744.7 485.3 L744.7 485.2 L745.7 485.2 L745.7 485.0 L746.7 485.0 L746.7 485.6 L747.7 485.6 L747.7 485.0 L748.7 485.0 L748.7 484.6 L749.7 484.6 L749.7 485.0 L750.7 485.0 L750.7 484.8 L751.7 484.8 L751.7 485.0 L752.7 485.0 L752.7 485.4 L753.8 485.4 L753.8 484.9 L754.8 484.9 L754.8 484.8 L755.8 484.8 L755.8 485.2 L756.8 485.2 L756.8 485.0 L757.9 485.0 L757.9 485.0 L758.9 485.0 L758.9 485.9 L759.9 485.9 L759.9 485.4 L760.9 485.4 L760.9 485.7 L762.0 485.7 L762.0 486.1 L763.0 486.1 L763.0 485.7 L764.0 485.7 L764.0 486.0 L765.0 486.0 L765.0 485.7 L766.0 485.7 L766.0 486.4 L767.0 486.4 L767.0 485.8 L768.0 485.8 L768.0 486.6 L769.0 486.6 L769.0 486.7 L770.0 486.7 L770.0 486.3 L771.0 486.3 L771.0 485.2 L772.0 485.2 L772.0 487.0 L773.0 487.0 L773.0 487.2 L774.0 487.2 L774.0 486.7 L775.0 486.7 L775.0 487.0 L776.0 487.0 L776.0 487.1 L777.0 487.1 L777.0 487.3 L778.0 487.3 L778.0 487.1 L779.0 487.1 L779.0 487.0 L780.0 487.0 L780.0 487.5 L781.0 487.5 L781.0 487.3 L782.0 487.3 L782.0 487.9 L783.0 487.9 L783.0 487.3 L784.0 487.3 L784.0 487.3 L785.0 487.3 L785.0 487.9 L786.0 487.9 L786.0 487.7 L787.0 487.7 L787.0 487.9 L788.0 487.9 L788.0 487.8 L789.0 487.8 L789.0 487.8 L790.0 487.8 L790.0 487.7 L791.0 487.7 L791.0 487.3 L792.0 487.3 L792.0 487.6 L793.0 487.6 L793.0 487.9 L794.0 487.9 L794.0 487.1 L795.0 487.1 L795.0 487.9 L796.0 487.9 L796.0 487.5 L797.0 487.5 L797.0 486.0 L797.9 486.0 L797.9 487.4 L798.9 487.4 L798.9 487.3 L799.9 487.3 L799.9 486.6 L800.9 486.6 L800.9 486.7 L801.8 486.7 L801.8 487.0 L802.8 487.0 L802.8 486.2 L803.8 486.2 L803.8 486.8 L804.8 486.8 L804.8 485.9 L805.7 485.9 L805.7 484.4 L806.7 484.4 L806.7 486.0 L807.7 486.0 L807.7 486.4 L808.7 486.4 L808.7 486.5 L809.8 486.5 L809.8 486.1 L810.8 486.1 L810.8 486.0 L811.8 486.0 L811.8 486.2 L812.8 486.2 L812.8 485.4 L813.9 485.4 L813.9 486.5 L814.9 486.5 L814.9 486.6 L815.9 486.6 L815.9 487.2 L816.9 487.2 L816.9 487.2 L818.0 487.2 L818.0 486.6 L819.0 486.6 L819.0 487.1 L820.0 487.1 L820.0 487.2 L821.0 487.2 L821.0 487.0 L822.0 487.0 L822.0 487.1 L823.0 487.1 L823.0 487.4 L824.0 487.4 L824.0 487.3 L824.9 487.3 L824.9 486.5 L825.9 486.5 L825.9 487.2 L826.9 487.2 L826.9 486.4 L827.9 486.4 L827.9 486.8 L828.9 486.8 L828.9 486.5 L829.9 486.5 L829.9 486.6 L830.9 486.6 L830.9 486.5 L831.9 486.5 L831.9 486.5 L832.9 486.5 L832.9 486.8 L833.8 486.8 L833.8 486.2 L834.8 486.2 L834.8 486.2 L835.8 486.2 L835.8 486.7 L836.8 486.7 L836.8 486.6 L837.8 486.6 L837.8 486.3 L838.8 486.3 L838.8 486.7 L839.8 486.7 L839.8 485.6 L840.8 485.6 L840.8 486.1 L841.8 486.1 L841.8 486.2 L842.7 486.2 L842.7 486.5 L843.7 486.5 L843.7 486.1 L844.7 486.1 L844.7 486.3 L845.7 486.3 L845.7 486.2 L846.7 486.2 L846.7 486.0 L847.7 486.0 L847.7 485.9 L848.7 485.9 L848.7 486.4 L849.7 486.4 L849.7 486.3 L850.8 486.3 L850.8 486.1 L851.8 486.1 L851.8 486.2 L852.8 486.2 L852.8 486.2 L853.8 486.2 L853.8 486.0 L854.8 486.0 L854.8 486.1 L855.8 486.1 L855.8 486.6 L856.8 486.6 L856.8 486.0 L857.9 486.0 L857.9 486.2 L858.9 486.2 L858.9 486.1 L859.9 486.1 L859.9 486.2 L860.9 486.2 L860.9 486.7 L861.9 486.7 L861.9 486.9 L862.9 486.9 L862.9 486.4 L863.9 486.4 L863.9 486.8 L865.0 486.8 L865.0 486.5 L866.0 486.5 L866.0 486.8 L867.0 486.8 L867.0 486.4 L868.0 486.4 L868.0 486.7 L869.0 486.7 L869.0 486.1 L870.0 486.1 L870.0 486.6 L871.0 486.6 L871.0 486.2 L872.0 486.2 L872.0 486.0 L873.0 486.0 L873.0 486.0 L874.0 486.0 L874.0 485.9 L875.0 485.9 L875.0 485.5 L876.0 485.5 L876.0 485.6 L877.0 485.6 L877.0 485.0 L878.0 485.0 L878.0 485.4 L879.0 485.4 L879.0 485.0 L880.0 485.0 L880.0 484.9 L881.0 484.9 L881.0 484.5 L882.0 484.5 L882.0 484.5 L883.0 484.5 L883.0 484.1 L884.0 484.1 L884.0 484.2 L885.0 484.2 L885.0 483.6 L886.0 483.6 L886.0 483.7 L887.0 483.7 L887.0 483.5 L888.0 483.5 L888.0 483.8 L889.0 483.8 L889.0 483.3 L890.0 483.3 L890.0 482.9 L891.0 482.9 L891.0 482.0 L892.0 482.0 L892.0 482.7 L893.0 482.7 L893.0 482.5 L894.0 482.5 L894.0 483.3 L895.0 483.3 L895.0 482.7 L896.1 482.7 L896.1 483.2 L897.1 483.2 L897.1 483.3 L898.1 483.3 L898.1 483.7 L899.1 483.7 L899.1 483.5 L900.1 483.5 L900.1 483.4 L901.1 483.4 L901.1 483.7 L902.1 483.7 L902.1 483.6 L903.2 483.6 L903.2 483.9 L904.2 483.9 L904.2 484.0 L905.2 484.0 L905.2 483.9 L906.2 483.9 L906.2 484.4 L907.2 484.4 L907.2 484.4 L908.2 484.4 L908.2 484.4 L909.2 484.4 L909.2 485.2 L910.3 485.2 L910.3 484.7 L911.3 484.7 L911.3 485.0 L912.3 485.0 L912.3 484.8 L913.3 484.8 L913.3 485.3 L914.3 485.3 L914.3 485.6 L915.3 485.6 L915.3 485.3 L916.3 485.3 L916.3 485.1 L917.2 485.1 L917.2 485.2 L918.2 485.2 L918.2 485.6 L919.2 485.6 L919.2 485.3 L920.2 485.3 L920.2 485.3 L921.2 485.3 L921.2 485.6 L922.2 485.6 L922.2 485.6 L923.2 485.6 L923.2 485.2 L924.1 485.2 L924.1 485.2 L925.1 485.2 L925.1 484.9 L926.1 484.9 L926.1 485.1 L927.1 485.1 L927.1 485.1 L928.1 485.1 L928.1 485.2 L929.1 485.2 L929.1 485.4 L930.1 485.4 L930.1 485.7 L931.1 485.7 L931.1 484.9 L932.0 484.9 L932.0 485.7 L933.0 485.7 L933.0 485.0 L934.0 485.0 L934.0 484.4 L935.0 485.3 L936.0 485.3 L937.0 485.3 L938.0 485.3 L939.0 485.3 L940.0 485.3 L941.0 485.3 L942.0 485.3 L943.0 485.3 L944.0 485.3 L945.0 485.3 L946.0 485.3 L947.0 485.3 L948.0 485.3 L949.0 485.3 L950.0 485.3 L951.0 485.3 L952.0 485.3 L953.0 485.3 L954.0 485.3 L955.0 485.3 L956.0 485.3 L957.0 485.3 L958.0 485.3 L959.0 485.3 L960.0 485.3 L961.0 485.3 L962.0 485.3 L963.0 485.3 L964.0 485.3 L965.0 485.3 L966.0 485.3 L967.0 485.3 L968.0 485.3 L969.0 485.3 L970.0 485.3 L971.0 485.3 L972.0 485.3 L973.0 485.3 L974.0 485.3 L975.0 485.3 L976.0 485.3 L977.0 485.3 L978.0 485.3 L979.0 485.3 L980.0 485.3 L981.0 485.3 L982.0 485.3 L983.0 485.3 L984.0 485.3 L985.0 485.3 L986.0 485.3 L987.0 485.3 L988.0 485.3 L989.0 485.3 L990.0 485.3 L991.0 485.3 L992.0 485.3 L993.0 485.3 L994.0 485.3 L995.0 485.3 L996.0 485.3 L997.0 485.3 L998.0 485.3 L999.0 485.3 L1000.0 485.3 L1001.0 485.3 L1002.0 485.3 L1003.0 485.3 L1004.0 485.3 L1005.0 485.3 L1006.0 485.3 L1007.0 485.3 L1008.0 485.3 L1009.0 485.3 L1010.0 485.3 L1011.0 485.3 L1012.0 485.3 L1013.0 485.3 L1014.0 485.3 L1015.0 485.3 L1016.0 485.3 L1017.0 485.3 L1018.0 485.3 L1019.0 485.3 L1020.0 485.3 L1021.0 485.3 L1022.0 485.3 L1023.0 485.3 L1024.0 485.3 L1025.0 485.3 L1026.0 485.3 L1027.0 485.3 L1028.0 485.3 L1029.0 485.3 L1030.0 485.3 L1031.0 485.3 L1032.0 485.3 L1033.0 485.3 L1034.0 485.3 L1035.0 485.3 L1036.0 485.3 L1037.0 485.3 L1038.0 485.3 L1039.0 485.3 L1040.0 485.3 L1041.0 485.3 L1042.0 485.3 L1043.0 485.3 L1044.0 485.3 L1045.0 485.3 L1046.0 485.3 L1047.0 485.3 L1048.0 485.3 L1049.0 485.3 L1050.0 485.3 L1051.0 485.3 L1052.0 485.3 L1053.0 485.3 L1054.0 485.3 L1055.0 485.3 L1056.0 485.3 L1057.0 485.3 L1058.0 485.3 L1059.0 485.3 L1060.0 485.3 L1061.0 485.3 L1062.0 485.3 L1063.0 485.3 L1064.0 485.3 L1065.0 485.3 L1066.0 485.3 L1067.0 485.3 L1068.0 485.3 L1069.0 485.3 L1070.0 485.3 L1071.0 485.3 L1072.0 485.3 L1073.0 485.3 L1074.0 485.3 L1075.0 485.3 L1076.0 485.3 L1077.0 485.3 L1078.0 485.3 L1079.0 485.3 L1080.0 485.3 L1081.0 485.3 L1082.0 485.3 L1083.0 485.3 L1084.0 485.3 L1085.0 485.3 L1086.0 485.3 L1087.0 485.3 L1088.0 485.3 L1089.0 485.3 L1090.0 485.3 L1091.0 485.3 L1092.0 485.3 L1093.0 485.3 L1094.0 485.3 L1095.0 485.3 L1096.0 485.3 L1097.0 485.3 L1098.0 485.3 L1099.0 485.3 L1100.0 485.3 L1101.0 485.3 L1102.0 485.3 L1103.0 485.3 L1104.0 485.3 L1105.0 485.3 L1106.0 485.3 L1107.0 485.3 L1108.0 485.3 L1109.0 485.3 L1110.0 485.3 L1111.0 485.3 L1112.0 485.3 L1113.0 485.3 L1114.0 485.3 L1115.0 485.3 L1116.0 485.3 L1117.0 485.3 L1118.0 485.3 L1119.0 485.3 L1120.0 485.3 L1121.0 485.3 L1122.0 485.3 L1123.0 485.3 L1124.0 485.3 L1125.0 485.3 L1126.0 485.3 L1127.0 485.3 L1128.0 485.3 L1129.0 485.3 L1130.0 485.3 L1131.0 485.3 L1132.0 485.3 L1133.0 485.3 L1134.0 485.3 L1135.0 485.3 L1136.0 485.3 L1137.0 485.3 L1138.0 485.3 L1139.0 485.3 L1140.0 485.3 L1141.0 485.3 L1142.0 485.3 L1143.0 485.3 L1144.0 485.3 L1145.0 485.3 L1146.0 485.3 L1147.0 485.3 L1148.0 485.3 L1149.0 485.3 L1150.0 485.3 L1151.0 485.3 L1152.0 485.3 L1153.0 485.3 L1154.0 485.3 L1155.0 485.3 L1156.0 485.3 L1157.0 485.3 L1158.0 485.3 L1159.0 485.3 L1160.0 485.3 L1161.0 485.3 L1162.0 485.3 L1163.0 485.3 L1164.0 485.3 L1165.0 485.3 L1166.0 485.3 L1167.0 485.3 L1168.0 485.3 L1169.0 485.3 L1170.0 485.3 L1171.0 485.3 L1172.0 485.3 L1173.0 485.3 L1174.0 485.3 L1175.0 485.3 L1176.0 485.3 L1177.0 485.3 L1178.0 485.3 L1179.0 485.3 L1180.0 485.3 L1181.0 485.3 L1182.0 485.3 L1183.0 485.3 L1184.0 485.3 L1185.0 485.3 L1186.0 485.3 L1187.0 485.3 L1188.0 485.3 L1189.0 485.3 L1190.0 485.3 L1191.0 485.3 L1192.0 485.3 L1193.0 485.3 L1194.0 485.3 L1195.0 485.3 L1196.0 485.3 L1197.0 485.3 L1198.0 485.3 L1199.0 485.3 L1200.0 485.3 L1201.0 485.3 L1202.0 485.3 L1203.0 485.3 L1204.0 485.3 L1205.0 485.3 L1206.0 485.3 L1207.0 485.3 L1208.0 485.3 L1209.0 485.3 L1210.0 485.3 L1211.0 485.3 L1212.0 485.3 L1213.0 485.3 L1214.0 485.3 L1215.0 485.3 L1216.0 485.3 L1217.0 485.3 L1218.0 485.3 L1219.0 485.3 L1220.0 485.3 L1221.0 485.3 L1222.0 485.3 L1223.0 485.3 L1224.0 485.3 L1225.0 485.3 L1226.0 485.3 L1227.0 485.3 L1228.0 485.3 L1229.0 485.3 L1230.0 485.3 L1231.0 485.3 L1232.0 485.3 L1233.0 485.3 L1233.0 485.3 L1234.0 485.3 L1234.0 485.9 L1235.0 485.9 L1235.0 485.5 L1236.0 485.5 L1236.0 485.7 L1237.0 485.7 L1237.0 486.5 L1238.0 486.5 L1238.0 486.2 L1239.0 486.2 L1239.0 487.0 L1240.0 487.0 L1240.0 487.3 L1241.0 487.3 L1241.0 487.4 L1242.0 487.4 L1242.0 487.8 L1243.0 487.8 L1243.0 488.0 L1244.0 488.0 L1244.0 488.1 L1245.0 488.1 L1245.0 488.3 L1246.0 488.3 L1246.0 488.7 L1247.0 488.7 L1247.0 488.4 L1248.0 488.4 L1248.0 488.5 L1249.0 488.5 L1249.0 488.7 L1250.0 488.7 L1250.0 489.3 L1251.0 489.3 L1251.0 489.0 L1252.0 489.0 L1252.0 489.3 L1253.0 489.3 L1253.0 488.1 L1254.0 488.1 L1254.0 489.2 L1255.0 489.2 L1255.0 489.3 L1256.0 489.3 L1256.0 489.0 L1257.0 489.0 L1257.0 489.6 L1258.0 489.6 L1258.0 489.2 L1259.0 489.2 L1259.0 488.7 L1260.0 488.7 L1260.0 489.2 L1261.0 489.2 L1261.0 488.9 L1262.0 488.9 L1262.0 489.0 L1263.0 489.0 L1263.0 489.0 L1264.0 489.0 L1264.0 487.9 L1265.0 487.9 L1265.0 489.0 L1266.0 489.0 L1266.0 489.1 L1267.0 489.1 L1267.0 488.7 L1267.9 488.7 L1267.9 488.9 L1268.9 488.9 L1268.9 488.5 L1269.9 488.5 L1269.9 488.6 L1270.9 488.6 L1270.9 488.2 L1271.9 488.2 L1271.9 488.3 L1272.9 488.3 L1272.9 488.1 L1273.9 488.1 L1273.9 488.6 L1274.8 488.6 L1274.8 488.4 L1275.8 488.4 L1275.8 487.9 L1276.8 487.9 L1276.8 488.1 L1277.8 488.1 L1277.8 488.2 L1278.8 488.2 L1278.8 488.1 L1279.8 488.1 L1279.8 487.8 L1280.8 487.8 L1280.8 486.5 L1281.8 486.5 L1281.8 488.0 L1282.8 488.0 L1282.8 487.7 L1283.7 487.7 L1283.7 487.9 L1284.7 487.9 L1284.7 487.5 L1285.7 487.5 L1285.7 487.5 L1286.7 487.5 L1286.7 487.3 L1287.7 487.3 L1287.7 487.5 L1288.7 487.5 L1288.7 487.5 L1289.7 487.5 L1289.7 487.6 L1290.7 487.6 L1290.7 485.7 L1291.7 485.7 L1291.7 487.8 L1292.8 487.8 L1292.8 487.3 L1293.8 487.3 L1293.8 487.7 L1294.8 487.7 L1294.8 487.3 L1295.8 487.3 L1295.8 487.4 L1296.8 487.4 L1296.8 487.4 L1297.8 487.4 L1297.8 487.9 L1298.8 487.9 L1298.8 486.6 L1299.8 486.6 L1299.8 487.9 L1300.8 487.9 L1300.8 488.0 L1301.8 488.0 L1301.8 487.2 L1302.8 487.2 L1302.8 487.7 L1303.9 487.7 L1303.9 488.1 L1304.9 488.1 L1304.9 487.6 L1305.9 487.6 L1305.9 487.8 L1306.9 487.8 L1306.9 486.4 L1307.9 486.4 L1307.9 487.9 L1308.9 487.9 L1308.9 488.2 L1309.9 488.2 L1309.9 488.1 L1310.9 488.1 L1310.9 487.4 L1311.9 487.4 L1311.9 487.6 L1312.9 487.6 L1312.9 487.6 L1313.9 487.6 L1313.9 488.1 L1315.0 488.1 L1315.0 488.2 L1316.0 488.2 L1316.0 487.5 L1317.0 487.5 L1317.0 488.1 L1318.0 488.1 L1318.0 488.3 L1319.0 488.3 L1319.0 488.4 L1320.0 488.4 L1320.0 488.0 L1321.0 488.0 L1321.0 486.3 L1322.0 486.3 L1322.0 488.4 L1322.9 488.4 L1322.9 488.0 L1323.9 488.0 L1323.9 487.9 L1324.9 487.9 L1324.9 488.2 L1325.9 488.2 L1325.9 488.1 L1326.9 488.1 L1326.9 488.2 L1327.9 488.2 L1327.9 488.0 L1328.8 488.0 L1328.8 488.2 L1329.8 488.2 L1329.8 488.5 L1330.8 488.5 L1330.8 488.4 L1331.8 488.4 L1331.8 488.9 L1332.8 488.9 L1332.8 488.6 L1333.8 488.6 L1333.8 488.2 L1334.7 488.2 L1334.7 488.8 L1335.7 488.8 L1335.7 488.5 L1336.7 488.5 L1336.7 488.7 L1337.7 488.7 L1337.7 489.2 L1338.7 489.2 L1338.7 488.9 L1339.7 488.9 L1339.7 488.8 L1340.7 488.8 L1340.7 488.8 L1341.8 488.8 L1341.8 489.1 L1342.8 489.1 L1342.8 489.3 L1343.8 489.3 L1343.8 488.7 L1344.8 488.7 L1344.8 489.1 L1345.8 489.1 L1345.8 489.5 L1346.8 489.5 L1346.8 488.9 L1347.8 488.9 L1347.8 489.7 L1348.8 489.7 L1348.8 489.5 L1349.8 489.5 L1349.8 489.8 L1350.9 489.8 L1350.9 489.7 L1351.9 489.7 L1351.9 489.5 L1352.9 489.5 L1352.9 489.7 L1353.9 489.7 L1353.9 489.5 L1354.9 489.5 L1354.9 490.2 L1355.9 490.2 L1355.9 490.0 L1356.9 490.0 L1356.9 489.9 L1357.9 489.9 L1357.9 489.8 L1359.0 489.8 L1359.0 490.3 L1360.0 490.3 L1360.0 489.7 L1361.0 489.7 L1361.0 490.4 L1362.0 490.4 L1362.0 490.3 L1363.0 490.3 L1363.0 490.3 L1364.0 490.3 L1364.0 490.6 L1365.0 490.6 L1365.0 490.1 L1366.0 490.1 L1366.0 489.8 L1367.0 489.8 L1367.0 489.7 L1367.9 489.7 L1367.9 489.8 L1368.9 489.8 L1368.9 489.7 L1369.9 489.7 L1369.9 489.4 L1370.9 489.4 L1370.9 490.1 L1371.9 490.1 L1371.9 489.2 L1372.9 489.2 L1372.9 489.7 L1373.9 489.7 L1373.9 489.5 L1374.8 489.5 L1374.8 488.3 L1375.8 488.3 L1375.8 489.7 L1376.8 489.7 L1376.8 489.1 L1377.8 489.1 L1377.8 488.8 L1378.8 488.8 L1378.8 488.9 L1379.8 488.9 L1379.8 489.1 L1380.8 489.1 L1380.8 489.2 L1381.8 489.2 L1381.8 488.3 L1382.8 488.3 L1382.8 488.3 L1383.7 488.3 L1383.7 488.1 L1384.7 488.1 L1384.7 488.8 L1385.7 488.8 L1385.7 488.8 L1386.7 488.8 L1386.7 488.3 L1387.7 488.3 L1387.7 487.9 L1388.7 487.9 L1388.7 488.2 L1389.7 488.2 L1389.7 488.6 L1390.7 488.6 L1390.7 488.2 L1391.7 488.2 L1391.7 488.6 L1392.7 488.6 L1392.7 488.0 L1393.7 488.0 L1393.7 487.8 L1394.7 487.8 L1394.7 488.5 L1395.7 488.5 L1395.7 487.6 L1396.7 487.6 L1396.7 487.9 L1397.8 487.9 L1397.8 488.4 L1398.8 488.4 L1398.8 487.6 L1399.8 487.6 L1399.8 488.1 L1400.8 488.1 L1400.8 488.4 L1401.8 488.4 L1401.8 487.6 L1402.8 487.6 L1402.8 488.3 L1403.8 488.3 L1403.8 487.7 L1404.8 487.7 L1404.8 488.0 L1405.8 488.0 L1405.8 487.6 L1406.8 487.6 L1406.8 487.4 L1407.8 487.4 L1407.8 487.4 L1408.8 487.4 L1408.8 487.7 L1409.2 491.7 Z" fill="#c41f25"/>
<path d="M164.0 654.0 L164.0 654.0 L165.0 654.0 L165.0 654.0 L165.9 654.0 L165.9 653.7 L166.9 653.7 L166.9 653.5 L167.8 653.5 L167.8 653.2 L168.7 653.2 L168.7 650.6 L169.5 650.6 L169.5 648.5 L170.4 648.5 L170.4 647.6 L171.3 647.6 L171.3 643.2 L172.1 643.2 L172.1 646.2 L173.0 646.2 L173.0 646.3 L173.9 646.3 L173.9 646.9 L174.8 646.9 L174.8 645.4 L175.6 645.4 L175.6 645.2 L176.5 645.2 L176.5 645.9 L177.3 645.9 L177.3 641.1 L178.2 641.1 L178.2 640.9 L179.1 640.9 L179.1 639.4 L179.9 639.4 L179.9 636.3 L180.8 636.3 L180.8 633.3 L181.7 633.3 L181.7 633.5 L182.5 633.5 L182.5 632.7 L183.4 632.7 L183.4 632.0 L184.5 632.0 L184.5 628.2 L185.6 628.2 L185.6 631.3 L186.7 631.3 L186.7 631.5 L187.8 631.5 L187.8 630.3 L188.8 630.3 L188.8 629.2 L189.9 629.2 L189.9 627.9 L190.9 627.9 L190.9 627.1 L192.0 627.1 L192.0 626.4 L193.0 626.4 L193.0 625.5 L194.1 625.5 L194.1 626.9 L195.3 626.9 L195.3 624.4 L196.4 624.4 L196.4 627.2 L197.4 627.2 L197.4 627.1 L198.3 627.1 L198.3 626.3 L199.3 626.3 L199.3 625.4 L200.2 625.4 L200.2 625.2 L201.2 625.2 L201.2 625.0 L202.5 625.0 L202.5 628.5 L203.3 628.5 L203.3 628.6 L204.2 628.6 L204.2 626.8 L205.1 626.8 L205.1 628.4 L206.0 628.4 L206.0 631.6 L207.0 631.6 L207.0 629.2 L208.0 629.2 L208.0 630.5 L209.0 630.5 L209.0 629.5 L210.0 629.5 L210.0 629.8 L211.0 629.8 L211.0 628.8 L212.0 628.8 L212.0 629.4 L212.9 629.4 L212.9 629.5 L213.7 629.5 L213.7 629.3 L214.6 629.3 L214.6 629.4 L215.9 629.4 L215.9 616.4 L216.9 616.4 L216.9 616.1 L218.0 616.1 L218.0 616.2 L219.0 616.2 L219.0 617.2 L220.0 617.2 L220.0 615.9 L221.0 615.9 L221.0 611.6 L222.0 611.6 L222.0 611.6 L223.0 611.6 L223.0 612.0 L223.9 612.0 L223.9 611.5 L224.9 611.5 L224.9 612.4 L225.8 612.4 L225.8 612.9 L226.8 612.9 L226.8 612.5 L227.7 612.5 L227.7 610.1 L228.5 610.1 L228.5 614.3 L229.4 614.3 L229.4 615.5 L230.3 615.5 L230.3 614.9 L231.1 614.9 L231.1 615.8 L232.0 615.8 L232.0 616.4 L233.1 616.4 L233.1 616.4 L234.2 616.4 L234.2 613.9 L235.2 613.9 L235.2 614.0 L236.3 614.0 L236.3 613.3 L237.4 613.3 L237.4 611.2 L238.5 611.2 L238.5 610.0 L239.8 610.0 L239.8 612.9 L240.7 612.9 L240.7 619.8 L241.8 619.8 L241.8 619.9 L243.0 619.9 L243.0 618.0 L244.1 618.0 L244.1 618.1 L245.0 618.1 L245.0 616.8 L245.9 616.8 L245.9 619.8 L247.0 619.8 L247.0 619.3 L248.1 619.3 L248.1 618.2 L249.1 618.2 L249.1 619.2 L250.2 619.2 L250.2 618.1 L251.3 618.1 L251.3 616.1 L252.3 616.1 L252.3 614.6 L253.4 614.6 L253.4 612.3 L254.5 612.3 L254.5 611.6 L255.5 611.6 L255.5 612.2 L256.6 612.2 L256.6 610.9 L257.6 610.9 L257.6 607.2 L258.7 607.2 L258.7 609.7 L259.7 609.7 L259.7 609.9 L260.8 609.9 L260.8 609.5 L261.9 609.5 L261.9 610.1 L263.0 610.1 L263.0 611.6 L264.1 611.6 L264.1 611.6 L265.1 611.6 L265.1 611.0 L266.2 611.0 L266.2 612.4 L267.2 612.4 L267.2 613.0 L268.3 613.0 L268.3 613.7 L269.3 613.7 L269.3 613.3 L270.2 613.3 L270.2 613.4 L271.0 613.4 L271.0 615.4 L271.9 615.4 L271.9 616.4 L272.8 616.4 L272.8 615.7 L273.6 615.7 L273.6 615.8 L274.5 615.8 L274.5 615.9 L275.4 615.9 L275.4 615.5 L276.5 615.5 L276.5 616.2 L277.7 616.2 L277.7 618.9 L278.8 618.9 L278.8 619.8 L280.0 619.8 L280.0 619.0 L281.1 619.0 L281.1 617.8 L282.1 617.8 L282.1 615.0 L283.2 615.0 L283.2 614.1 L284.3 614.1 L284.3 611.5 L285.4 611.5 L285.4 612.9 L286.4 612.9 L286.4 614.7 L287.3 614.7 L287.3 614.3 L288.2 614.3 L288.2 612.3 L289.2 612.3 L289.2 611.8 L290.1 611.8 L290.1 611.0 L290.9 611.0 L290.9 612.9 L291.7 612.9 L291.7 613.6 L292.8 613.6 L292.8 611.0 L293.9 611.0 L293.9 607.2 L295.0 607.2 L295.0 603.8 L296.0 603.8 L296.0 603.2 L297.1 603.2 L297.1 599.8 L298.0 599.8 L298.0 598.9 L298.8 598.9 L298.8 599.3 L299.7 599.3 L299.7 598.7 L300.7 598.7 L300.7 595.6 L301.7 595.6 L301.7 595.2 L302.6 595.2 L302.6 596.4 L303.6 596.4 L303.6 595.3 L304.6 595.3 L304.6 594.0 L305.6 594.0 L305.6 592.3 L306.7 592.3 L306.7 590.8 L307.7 590.8 L307.7 592.6 L308.8 592.6 L308.8 593.4 L309.9 593.4 L309.9 594.7 L310.9 594.7 L310.9 597.8 L312.0 597.8 L312.0 598.7 L313.1 598.7 L313.1 599.8 L314.2 599.8 L314.2 601.9 L315.0 601.9 L315.0 599.4 L315.8 599.4 L315.8 597.1 L316.6 597.1 L316.6 598.0 L317.4 598.0 L317.4 599.8 L318.4 599.8 L318.4 599.7 L319.5 599.7 L319.5 599.2 L320.6 599.2 L320.6 598.6 L321.6 598.6 L321.6 598.2 L322.7 598.2 L322.7 600.8 L323.8 600.8 L323.8 596.6 L324.9 596.6 L324.9 591.8 L325.9 591.8 L325.9 587.7 L327.0 587.7 L327.0 584.3 L328.1 584.3 L328.1 584.7 L329.1 584.7 L329.1 585.4 L330.2 585.4 L330.2 584.4 L331.2 584.4 L331.2 584.6 L332.3 584.6 L332.3 584.3 L333.4 584.3 L333.4 583.9 L334.4 583.9 L334.4 583.6 L335.5 583.6 L335.5 582.7 L336.6 582.7 L336.6 582.9 L337.6 582.9 L337.6 582.9 L338.7 582.9 L338.7 582.6 L339.8 582.6 L339.8 583.2 L340.9 583.2 L340.9 585.1 L341.9 585.1 L341.9 587.0 L343.0 587.0 L343.0 587.1 L344.0 587.1 L344.0 591.4 L345.1 591.4 L345.1 592.7 L346.2 592.7 L346.2 594.4 L347.2 594.4 L347.2 596.9 L348.3 596.9 L348.3 599.9 L349.3 599.9 L349.3 599.4 L350.4 599.4 L350.4 606.2 L351.5 606.2 L351.5 607.8 L352.6 607.8 L352.6 613.6 L353.6 613.6 L353.6 606.0 L354.7 606.0 L354.7 598.7 L355.8 598.7 L355.8 596.6 L356.9 596.6 L356.9 597.0 L357.9 597.0 L357.9 594.0 L359.0 594.0 L359.0 593.4 L360.1 593.4 L360.1 591.5 L361.1 591.5 L361.1 590.4 L362.2 590.4 L362.2 589.2 L363.3 589.2 L363.3 587.5 L364.3 587.5 L364.3 585.9 L365.4 585.9 L365.4 583.8 L366.5 583.8 L366.5 582.9 L367.5 582.9 L367.5 581.6 L368.6 581.6 L368.6 577.1 L369.6 577.1 L369.6 578.0 L370.7 578.0 L370.7 576.3 L371.8 576.3 L371.8 575.9 L372.9 575.9 L372.9 573.5 L373.9 573.5 L373.9 573.1 L375.0 573.1 L375.0 571.0 L376.1 571.0 L376.1 567.3 L377.1 567.3 L377.1 564.0 L378.2 564.0 L378.2 572.2 L379.3 572.2 L379.3 580.6 L380.4 580.6 L380.4 580.5 L381.4 580.5 L381.4 581.4 L382.5 581.4 L382.5 581.6 L383.4 581.6 L383.4 583.0 L384.2 583.0 L384.2 585.9 L385.1 585.9 L385.1 587.0 L386.1 587.0 L386.1 586.6 L387.0 586.6 L387.0 586.1 L387.9 586.1 L387.9 586.3 L388.9 586.3 L388.9 585.9 L389.9 585.9 L389.9 587.3 L390.8 587.3 L390.8 590.0 L391.8 590.0 L391.8 593.3 L392.7 593.3 L392.7 594.3 L393.7 594.3 L393.7 597.1 L394.6 597.1 L394.6 593.1 L395.4 593.1 L395.4 589.8 L396.3 589.8 L396.3 585.9 L397.4 585.9 L397.4 580.1 L398.4 580.1 L398.4 572.8 L399.5 572.8 L399.5 566.1 L400.6 566.1 L400.6 564.4 L401.6 564.4 L401.6 562.9 L402.7 562.9 L402.7 560.5 L403.8 560.5 L403.8 558.7 L404.8 558.7 L404.8 557.6 L405.9 557.6 L405.9 555.5 L406.9 555.5 L406.9 554.6 L407.9 554.6 L407.9 555.1 L408.9 555.1 L408.9 555.3 L409.8 555.3 L409.8 556.0 L410.8 556.0 L410.8 554.9 L411.8 554.9 L411.8 554.9 L412.8 554.9 L412.8 556.0 L413.8 556.0 L413.8 555.2 L414.8 555.2 L414.8 554.7 L415.8 554.7 L415.8 556.4 L416.8 556.4 L416.8 555.6 L417.8 555.6 L417.8 556.5 L418.8 556.5 L418.8 556.5 L419.8 556.5 L419.8 556.0 L420.9 556.0 L420.9 561.0 L421.9 561.0 L421.9 564.5 L423.0 564.5 L423.0 572.9 L424.1 572.9 L424.1 582.7 L425.1 582.7 L425.1 581.7 L426.2 581.7 L426.2 580.6 L427.3 580.6 L427.3 582.6 L428.4 582.6 L428.4 586.2 L429.4 586.2 L429.4 588.3 L430.5 588.3 L430.5 591.2 L431.6 591.2 L431.6 589.6 L432.6 589.6 L432.6 592.2 L433.7 592.2 L433.7 591.8 L434.8 591.8 L434.8 584.3 L435.8 584.3 L435.8 579.5 L436.9 579.5 L436.9 578.4 L437.9 578.4 L437.9 576.3 L439.0 576.3 L439.0 574.2 L440.0 574.2 L440.0 573.1 L441.0 573.1 L441.0 571.6 L442.0 571.6 L442.0 571.1 L443.0 571.1 L443.0 570.0 L444.0 570.0 L444.0 571.1 L445.0 571.1 L445.0 571.2 L446.0 571.2 L446.0 573.5 L447.0 573.5 L447.0 573.2 L448.0 573.2 L448.0 575.0 L449.0 575.0 L449.0 576.2 L450.0 576.2 L450.0 577.0 L451.0 577.0 L451.0 573.5 L452.0 573.5 L452.0 577.3 L453.0 577.3 L453.0 578.0 L454.0 578.0 L454.0 578.5 L455.0 578.5 L455.0 579.2 L456.0 579.2 L456.0 581.3 L457.0 581.3 L457.0 581.0 L458.0 581.0 L458.0 578.7 L459.0 578.7 L459.0 583.0 L460.0 583.0 L460.0 586.7 L461.0 586.7 L461.0 589.9 L462.0 589.9 L462.0 589.7 L463.0 589.7 L463.0 597.0 L464.0 597.0 L464.0 594.0 L465.0 594.0 L465.0 590.3 L466.0 590.3 L466.0 585.4 L467.0 585.4 L467.0 582.0 L468.0 582.0 L468.0 579.9 L469.0 579.9 L469.0 576.9 L470.0 576.9 L470.0 572.8 L471.0 572.8 L471.0 570.0 L472.0 570.0 L472.0 570.0 L473.0 570.0 L473.0 572.0 L474.0 572.0 L474.0 572.4 L475.0 572.4 L475.0 571.7 L476.0 571.7 L476.0 573.0 L477.0 573.0 L477.0 571.0 L478.0 571.0 L478.0 569.8 L479.0 569.8 L479.0 568.0 L480.0 568.0 L480.0 567.2 L481.0 567.2 L481.0 566.0 L482.0 566.0 L482.0 566.6 L483.0 566.6 L483.0 569.7 L484.0 569.7 L484.0 570.0 L485.0 570.0 L485.0 571.6 L486.0 571.6 L486.0 572.6 L487.0 572.6 L487.0 575.0 L488.0 575.0 L488.0 576.7 L489.0 576.7 L489.0 579.4 L490.0 579.4 L490.0 580.5 L491.0 580.5 L491.0 583.0 L492.0 583.0 L492.0 578.9 L493.0 578.9 L493.0 577.0 L494.0 577.0 L494.0 573.0 L495.0 573.0 L495.0 575.7 L496.0 575.7 L496.0 580.1 L497.0 580.1 L497.0 583.0 L498.0 583.0 L498.0 580.7 L499.0 580.7 L499.0 577.4 L500.0 577.4 L500.0 572.7 L501.0 572.7 L501.0 570.0 L502.0 570.0 L502.0 568.5 L503.0 568.5 L503.0 568.0 L504.0 568.0 L504.0 567.9 L505.0 567.9 L505.0 567.0 L506.0 567.0 L506.0 566.5 L507.0 566.5 L507.0 566.4 L508.0 566.4 L508.0 566.2 L509.0 566.2 L509.0 567.1 L510.0 567.1 L510.0 567.5 L511.0 567.5 L511.0 567.0 L512.0 567.0 L512.0 566.9 L513.0 566.9 L513.0 565.8 L514.0 565.8 L514.0 564.9 L515.0 564.9 L515.0 566.0 L516.0 566.0 L516.0 565.2 L517.0 565.2 L517.0 564.4 L518.0 564.4 L518.0 578.0 L519.0 578.0 L519.0 578.8 L520.0 578.8 L520.0 579.4 L521.0 579.4 L521.0 579.3 L522.0 579.3 L522.0 580.3 L523.0 580.3 L523.0 582.0 L524.0 582.0 L524.0 582.1 L525.0 582.1 L525.0 583.0 L526.0 583.0 L526.0 585.8 L527.0 585.8 L527.0 588.2 L528.0 588.2 L528.0 586.6 L529.0 586.6 L529.0 592.0 L530.0 592.0 L530.0 589.7 L531.0 589.7 L531.0 586.5 L532.0 586.5 L532.0 584.0 L533.0 584.0 L533.0 584.0 L534.0 584.0 L534.0 583.8 L535.0 583.8 L535.0 582.9 L536.0 582.9 L536.0 581.5 L537.0 581.5 L537.0 582.2 L538.0 582.2 L538.0 579.0 L539.0 579.0 L539.0 580.3 L540.0 580.3 L540.0 578.4 L541.0 578.4 L541.0 580.0 L542.0 580.0 L542.0 580.5 L543.0 580.5 L543.0 581.2 L544.0 581.2 L544.0 581.2 L545.0 581.2 L545.0 580.9 L546.0 580.9 L546.0 577.9 L547.0 577.9 L547.0 582.2 L548.0 582.2 L548.0 581.0 L549.0 581.0 L549.0 580.7 L550.0 580.7 L550.0 582.4 L551.0 582.4 L551.0 582.0 L552.0 582.0 L552.0 582.6 L553.0 582.6 L553.0 584.1 L554.0 584.1 L554.0 584.0 L555.0 584.0 L555.0 586.7 L556.0 586.7 L556.0 589.2 L557.0 589.2 L557.0 590.6 L558.0 590.6 L558.0 594.2 L559.0 594.2 L559.0 596.5 L560.0 596.5 L560.0 598.0 L561.0 598.0 L561.0 599.7 L562.0 599.7 L562.0 600.7 L563.0 600.7 L563.0 600.7 L564.0 600.7 L564.0 602.7 L565.0 602.7 L565.0 604.9 L566.0 604.9 L566.0 603.0 L567.0 603.0 L567.0 607.0 L568.0 607.0 L568.0 607.7 L569.0 607.7 L569.0 609.1 L570.0 609.1 L570.0 610.0 L571.0 610.0 L571.0 608.3 L572.0 608.3 L572.0 611.2 L573.0 611.2 L573.0 611.6 L574.0 611.6 L574.0 613.1 L575.0 613.1 L575.0 612.8 L576.0 612.8 L576.0 614.0 L577.0 614.0 L577.0 613.5 L578.0 613.5 L578.0 613.9 L579.0 613.9 L579.0 612.1 L580.0 612.1 L580.0 611.3 L581.0 611.3 L581.0 611.2 L582.0 611.2 L582.0 611.1 L583.0 611.1 L583.0 609.8 L584.0 609.8 L584.0 610.0 L585.0 610.0 L585.0 606.9 L586.0 606.9 L586.0 603.9 L587.0 603.9 L587.0 600.0 L588.0 600.0 L588.0 586.6 L589.0 586.6 L589.0 574.4 L590.0 574.4 L590.0 562.0 L591.0 562.0 L591.0 560.1 L592.0 560.1 L592.0 559.4 L593.0 559.4 L593.0 558.9 L594.0 558.9 L594.0 558.0 L595.0 558.0 L595.0 557.1 L596.0 557.1 L596.0 556.7 L597.0 556.7 L597.0 552.2 L598.0 552.2 L598.0 556.5 L599.0 556.5 L599.0 555.9 L600.0 555.9 L600.0 555.1 L601.0 555.1 L601.0 554.5 L602.0 554.5 L602.0 554.0 L603.0 554.0 L603.0 553.0 L604.0 553.0 L604.0 552.3 L605.0 552.3 L605.0 553.2 L606.0 553.2 L606.0 553.4 L607.0 553.4 L607.0 551.6 L608.0 551.6 L608.0 548.1 L609.0 548.1 L609.0 552.1 L610.0 552.1 L610.0 551.0 L611.0 551.0 L611.0 553.9 L612.0 553.9 L612.0 558.0 L613.0 558.0 L613.0 575.7 L614.0 575.7 L614.0 592.0 L615.0 592.0 L615.0 589.3 L616.0 589.3 L616.0 588.7 L617.0 588.7 L617.0 585.7 L618.0 585.7 L618.0 584.0 L619.0 584.0 L619.0 576.7 L620.0 576.7 L620.0 567.7 L621.0 567.7 L621.0 560.0 L622.0 560.0 L622.0 558.0 L623.0 558.0 L623.0 553.6 L624.0 553.6 L624.0 555.0 L625.0 555.0 L625.0 553.0 L626.0 553.0 L626.0 554.9 L627.0 554.9 L627.0 556.9 L628.0 556.9 L628.0 557.5 L629.0 557.5 L629.0 558.6 L630.0 558.6 L630.0 559.7 L631.0 559.7 L631.0 562.0 L632.0 562.0 L632.0 563.8 L633.0 563.8 L633.0 567.9 L634.0 567.9 L634.0 568.6 L635.0 568.6 L635.0 571.4 L636.0 571.4 L636.0 573.5 L637.0 573.5 L637.0 577.0 L638.0 577.0 L638.0 580.7 L639.0 580.7 L639.0 582.9 L640.0 582.9 L640.0 586.3 L641.0 586.3 L641.0 588.8 L642.0 588.8 L642.0 592.0 L643.0 592.0 L643.0 599.9 L644.0 599.9 L644.0 608.7 L645.0 608.7 L645.0 616.0 L646.0 616.0 L646.0 621.3 L647.0 621.3 L647.0 627.9 L648.0 627.9 L648.0 633.7 L649.0 633.7 L649.0 639.2 L650.0 639.2 L650.0 646.0 L651.0 646.0 L651.0 646.9 L652.0 646.9 L652.0 648.8 L653.0 648.8 L653.0 649.9 L654.0 649.9 L654.0 650.0 L655.0 650.0 L655.0 649.0 L656.0 649.0 L656.0 646.6 L657.0 646.6 L657.0 646.5 L658.0 646.5 L658.0 645.0 L659.0 645.0 L659.0 644.1 L660.0 644.1 L660.0 643.0 L661.0 643.0 L661.0 641.6 L662.0 641.6 L662.0 640.3 L663.0 640.3 L663.0 640.4 L664.0 640.4 L664.0 638.2 L665.0 638.2 L665.0 638.0 L666.0 638.0 L666.0 636.0 L667.0 636.0 L667.0 634.4 L668.0 634.4 L668.0 633.0 L669.0 633.0 L669.0 630.4 L670.0 630.4 L670.0 630.2 L671.0 630.2 L671.0 626.9 L672.0 626.9 L672.0 626.0 L673.0 626.0 L673.0 625.0 L674.0 625.0 L674.0 625.1 L675.0 625.1 L675.0 624.5 L676.0 624.5 L676.0 623.5 L677.0 623.5 L677.0 622.7 L678.0 622.7 L678.0 623.2 L679.0 623.2 L679.0 620.2 L680.0 620.2 L680.0 622.0 L681.0 622.0 L681.0 623.4 L682.0 623.4 L682.0 623.8 L683.0 623.8 L683.0 623.2 L684.0 623.2 L684.0 625.1 L685.0 625.1 L685.0 626.0 L686.0 626.0 L686.0 626.0 L687.0 626.0 L687.0 625.6 L688.0 625.6 L688.0 626.7 L689.0 626.7 L689.0 626.1 L690.0 626.1 L690.0 626.3 L691.0 626.3 L691.0 624.7 L692.0 624.7 L692.0 627.1 L693.0 627.1 L693.0 628.0 L694.0 628.0 L694.0 626.4 L695.0 626.4 L695.0 624.8 L696.0 624.8 L696.0 622.0 L697.0 622.0 L697.0 621.7 L698.0 621.7 L698.0 620.8 L699.0 620.8 L699.0 618.3 L700.0 618.3 L700.0 617.7 L701.0 617.7 L701.0 617.4 L702.0 617.4 L702.0 616.0 L703.0 616.0 L703.0 614.8 L704.0 614.8 L704.0 615.7 L705.0 615.7 L705.0 612.7 L706.0 612.7 L706.0 613.6 L707.0 613.6 L707.0 614.0 L708.0 614.0 L708.0 613.0 L709.0 613.0 L709.0 611.7 L710.0 611.7 L710.0 608.8 L711.0 608.8 L711.0 607.6 L712.0 607.6 L712.0 606.3 L713.0 606.3 L713.0 603.6 L714.0 603.6 L714.0 603.0 L715.0 603.0 L715.0 604.4 L716.0 604.4 L716.0 604.8 L717.0 604.8 L717.0 605.9 L718.0 605.9 L718.0 605.6 L719.0 605.6 L719.0 607.2 L720.0 607.2 L720.0 608.0 L721.0 608.0 L721.0 608.2 L722.0 608.2 L722.0 606.2 L723.0 606.2 L723.0 606.1 L724.0 606.1 L724.0 607.1 L725.0 607.1 L725.0 605.1 L726.0 605.1 L726.0 606.2 L727.0 606.2 L727.0 605.0 L728.0 605.0 L728.0 604.1 L729.0 604.1 L729.0 604.2 L730.0 604.2 L730.0 604.0 L731.0 604.0 L731.0 601.8 L732.0 601.8 L732.0 602.2 L733.0 602.2 L733.0 600.9 L734.0 600.9 L734.0 601.2 L735.0 601.2 L735.0 601.0 L736.0 601.0 L736.0 597.5 L737.0 597.5 L737.0 597.1 L738.0 597.1 L738.0 599.0 L739.0 599.0 L739.0 598.3 L740.0 598.3 L740.0 598.8 L741.0 598.8 L741.0 597.7 L742.0 597.7 L742.0 597.4 L743.0 597.4 L743.0 597.6 L744.0 597.6 L744.0 595.9 L745.0 595.9 L745.0 597.0 L746.0 597.0 L746.0 598.8 L747.0 598.8 L747.0 600.0 L748.0 600.0 L748.0 601.0 L749.0 601.0 L749.0 602.0 L750.0 602.0 L750.0 601.0 L751.0 601.0 L751.0 601.6 L752.0 601.6 L752.0 600.6 L753.0 600.6 L753.0 600.2 L754.0 600.2 L754.0 599.2 L755.0 599.2 L755.0 598.3 L756.0 598.3 L756.0 598.0 L757.0 598.0 L757.0 596.3 L758.0 596.3 L758.0 598.3 L759.0 598.3 L759.0 599.0 L760.0 599.0 L760.0 598.8 L761.0 598.8 L761.0 599.4 L762.0 599.4 L762.0 600.0 L763.0 600.0 L763.0 600.2 L764.0 600.2 L764.0 602.3 L765.0 602.3 L765.0 603.6 L766.0 603.6 L766.0 603.5 L767.0 603.5 L767.0 600.7 L768.0 600.7 L768.0 602.5 L769.0 602.5 L769.0 602.8 L770.0 602.8 L770.0 602.1 L771.0 602.1 L771.0 602.4 L772.0 602.4 L772.0 602.0 L773.0 602.0 L773.0 601.1 L774.0 601.1 L774.0 602.5 L775.0 602.5 L775.0 601.8 L776.0 601.8 L776.0 601.0 L777.0 601.0 L777.0 601.2 L778.0 601.2 L778.0 605.2 L779.0 605.2 L779.0 604.2 L780.0 604.2 L780.0 607.4 L781.0 607.4 L781.0 609.0 L782.0 609.0 L782.0 610.7 L783.0 610.7 L783.0 613.0 L784.0 613.0 L784.0 614.9 L785.0 614.9 L785.0 614.7 L786.0 614.7 L786.0 617.4 L787.0 617.4 L787.0 616.7 L788.0 616.7 L788.0 619.5 L789.0 619.5 L789.0 619.1 L790.0 619.1 L790.0 621.0 L791.0 621.0 L791.0 620.6 L792.0 620.6 L792.0 620.3 L793.0 620.3 L793.0 618.9 L794.0 618.9 L794.0 619.5 L795.0 619.5 L795.0 618.3 L796.0 618.3 L796.0 615.6 L797.0 615.6 L797.0 616.6 L798.0 616.6 L798.0 617.0 L799.0 617.0 L799.0 615.3 L800.0 615.3 L800.0 614.4 L801.0 614.4 L801.0 609.4 L802.0 609.4 L802.0 611.5 L803.0 611.5 L803.0 610.0 L804.0 610.0 L804.0 608.7 L805.0 608.7 L805.0 609.6 L806.0 609.6 L806.0 607.9 L807.0 607.9 L807.0 607.6 L808.0 607.6 L808.0 607.0 L809.0 607.0 L809.0 607.3 L810.0 607.3 L810.0 607.0 L811.0 607.0 L811.0 607.5 L812.0 607.5 L812.0 608.0 L813.0 608.0 L813.0 607.7 L814.0 607.7 L814.0 607.8 L815.0 607.8 L815.0 609.2 L816.0 609.2 L816.0 609.0 L817.0 609.0 L817.0 609.1 L818.0 609.1 L818.0 611.0 L819.0 611.0 L819.0 610.1 L820.0 610.1 L820.0 611.9 L821.0 611.9 L821.0 610.5 L822.0 610.5 L822.0 612.0 L823.0 612.0 L823.0 613.3 L824.0 613.3 L824.0 613.7 L825.0 613.7 L825.0 614.5 L826.0 614.5 L826.0 613.8 L827.0 613.8 L827.0 617.0 L828.0 617.0 L828.0 614.5 L829.0 614.5 L829.0 614.0 L830.0 614.0 L830.0 613.2 L831.0 613.2 L831.0 610.0 L832.0 610.0 L832.0 609.6 L833.0 609.6 L833.0 604.0 L834.0 604.0 L834.0 606.0 L835.0 606.0 L835.0 604.6 L836.0 604.6 L836.0 604.3 L837.0 604.3 L837.0 603.1 L838.0 603.1 L838.0 602.5 L839.0 602.5 L839.0 602.5 L840.0 602.5 L840.0 598.7 L841.0 598.7 L841.0 600.0 L842.0 600.0 L842.0 600.1 L843.0 600.1 L843.0 599.7 L844.0 599.7 L844.0 600.7 L845.0 600.7 L845.0 602.0 L846.0 602.0 L846.0 600.9 L847.0 600.9 L847.0 601.2 L848.0 601.2 L848.0 602.0 L849.0 602.0 L849.0 602.3 L850.0 602.3 L850.0 604.3 L851.0 604.3 L851.0 604.2 L852.0 604.2 L852.0 604.9 L853.0 604.9 L853.0 605.7 L854.0 605.7 L854.0 608.0 L855.0 608.0 L855.0 608.6 L856.0 608.6 L856.0 609.0 L857.0 609.0 L857.0 608.8 L858.0 608.8 L858.0 609.5 L859.0 609.5 L859.0 609.1 L860.0 609.1 L860.0 610.0 L861.0 610.0 L861.0 611.7 L862.0 611.7 L862.0 613.2 L863.0 613.2 L863.0 613.9 L864.0 613.9 L864.0 615.7 L865.0 615.7 L865.0 618.2 L866.0 618.2 L866.0 619.0 L867.0 619.0 L867.0 618.3 L868.0 618.3 L868.0 614.5 L869.0 614.5 L869.0 612.4 L870.0 612.4 L870.0 612.6 L871.0 612.6 L871.0 611.1 L872.0 611.1 L872.0 610.8 L873.0 610.8 L873.0 609.0 L874.0 609.0 L874.0 608.0 L875.0 608.0 L875.0 608.0 L876.0 608.0 L876.0 606.2 L877.0 606.2 L877.0 606.7 L878.0 606.7 L878.0 604.5 L879.0 604.5 L879.0 604.2 L880.0 604.2 L880.0 604.0 L881.0 604.0 L881.0 599.0 L882.0 599.0 L882.0 602.1 L883.0 602.1 L883.0 601.0 L884.0 601.0 L884.0 600.3 L885.0 600.3 L885.0 599.6 L886.0 599.6 L886.0 598.8 L887.0 598.8 L887.0 598.8 L888.0 598.8 L888.0 598.0 L889.0 598.0 L889.0 596.8 L890.0 596.8 L890.0 597.0 L891.0 597.0 L891.0 594.7 L892.0 594.7 L892.0 594.4 L893.0 594.4 L893.0 596.8 L894.0 596.8 L894.0 597.1 L895.0 597.1 L895.0 597.6 L896.0 597.6 L896.0 600.8 L897.0 600.8 L897.0 602.5 L898.0 602.5 L898.0 604.0 L899.0 604.0 L899.0 603.0 L900.0 603.0 L900.0 604.3 L901.0 604.3 L901.0 604.1 L902.0 604.1 L902.0 605.0 L903.0 605.0 L903.0 604.4 L904.0 604.4 L904.0 603.6 L905.0 603.6 L905.0 604.9 L906.0 604.9 L906.0 604.0 L907.0 604.0 L907.0 604.6 L908.0 604.6 L908.0 605.0 L909.0 605.0 L909.0 605.5 L910.0 605.5 L910.0 608.2 L911.0 608.2 L911.0 608.4 L912.0 608.4 L912.0 609.0 L913.0 609.0 L913.0 608.3 L914.0 608.3 L914.0 607.9 L915.0 607.9 L915.0 609.0 L916.0 609.0 L916.0 607.4 L917.0 607.4 L917.0 607.8 L918.0 607.8 L918.0 608.0 L919.0 608.0 L919.0 605.9 L920.0 605.9 L920.0 607.6 L921.0 607.6 L921.0 608.3 L922.0 608.3 L922.0 607.7 L923.0 607.7 L923.0 607.0 L924.0 607.5 L925.0 607.5 L926.0 607.5 L927.0 607.5 L928.0 607.5 L929.0 607.5 L930.0 607.5 L931.0 607.5 L932.0 607.5 L933.0 607.5 L934.0 607.5 L935.0 607.5 L936.0 607.5 L937.0 607.5 L938.0 607.5 L939.0 607.5 L940.0 607.5 L941.0 607.5 L942.0 607.5 L943.0 607.5 L944.0 607.5 L945.0 607.5 L946.0 607.5 L947.0 607.5 L948.0 607.5 L949.0 607.5 L950.0 607.5 L951.0 607.5 L952.0 607.5 L953.0 607.5 L954.0 607.5 L955.0 607.5 L956.0 607.5 L957.0 607.5 L958.0 607.5 L959.0 607.5 L960.0 607.5 L961.0 607.5 L962.0 607.5 L963.0 607.5 L964.0 607.5 L965.0 607.5 L966.0 607.5 L967.0 607.5 L968.0 607.5 L969.0 607.5 L970.0 607.5 L971.0 607.5 L972.0 607.5 L973.0 607.5 L974.0 607.5 L975.0 607.5 L976.0 607.5 L977.0 607.5 L978.0 607.5 L979.0 607.5 L980.0 607.5 L981.0 607.5 L982.0 607.5 L983.0 607.5 L984.0 607.5 L985.0 607.5 L986.0 607.5 L987.0 607.5 L988.0 607.5 L989.0 607.5 L990.0 607.5 L991.0 607.5 L992.0 607.5 L993.0 607.5 L994.0 607.5 L995.0 607.5 L996.0 607.5 L997.0 607.5 L998.0 607.5 L999.0 607.5 L1000.0 607.5 L1001.0 607.5 L1002.0 607.5 L1003.0 607.5 L1004.0 607.5 L1005.0 607.5 L1006.0 607.5 L1007.0 607.5 L1008.0 607.5 L1009.0 607.5 L1010.0 607.5 L1011.0 607.5 L1012.0 607.5 L1013.0 607.5 L1014.0 607.5 L1015.0 607.5 L1016.0 607.5 L1017.0 607.5 L1018.0 607.5 L1019.0 607.5 L1020.0 607.5 L1021.0 607.5 L1022.0 607.5 L1023.0 607.5 L1024.0 607.5 L1025.0 607.5 L1026.0 607.5 L1027.0 607.5 L1028.0 607.5 L1029.0 607.5 L1030.0 607.5 L1031.0 607.5 L1032.0 607.5 L1033.0 607.5 L1034.0 607.5 L1035.0 607.5 L1036.0 607.5 L1037.0 607.5 L1038.0 607.5 L1039.0 607.5 L1040.0 607.5 L1041.0 607.5 L1042.0 607.5 L1043.0 607.5 L1044.0 607.5 L1045.0 607.5 L1046.0 607.5 L1047.0 607.5 L1048.0 607.5 L1049.0 607.5 L1050.0 607.5 L1051.0 607.5 L1052.0 607.5 L1053.0 607.5 L1054.0 607.5 L1055.0 607.5 L1056.0 607.5 L1057.0 607.5 L1058.0 607.5 L1059.0 607.5 L1060.0 607.5 L1061.0 607.5 L1062.0 607.5 L1063.0 607.5 L1064.0 607.5 L1065.0 607.5 L1066.0 607.5 L1067.0 607.5 L1068.0 607.5 L1069.0 607.5 L1070.0 607.5 L1071.0 607.5 L1072.0 607.5 L1073.0 607.5 L1074.0 607.5 L1075.0 607.5 L1076.0 607.5 L1077.0 607.5 L1078.0 607.5 L1079.0 607.5 L1080.0 607.5 L1081.0 607.5 L1082.0 607.5 L1083.0 607.5 L1084.0 607.5 L1085.0 607.5 L1086.0 607.5 L1087.0 607.5 L1088.0 607.5 L1089.0 607.5 L1090.0 607.5 L1091.0 607.5 L1092.0 607.5 L1093.0 607.5 L1094.0 607.5 L1095.0 607.5 L1096.0 607.5 L1097.0 607.5 L1098.0 607.5 L1099.0 607.5 L1100.0 607.5 L1101.0 607.5 L1102.0 607.5 L1103.0 607.5 L1104.0 607.5 L1105.0 607.5 L1106.0 607.5 L1107.0 607.5 L1108.0 607.5 L1109.0 607.5 L1110.0 607.5 L1111.0 607.5 L1112.0 607.5 L1113.0 607.5 L1114.0 607.5 L1115.0 607.5 L1116.0 607.5 L1117.0 607.5 L1118.0 607.5 L1119.0 607.5 L1120.0 607.5 L1121.0 607.5 L1122.0 607.5 L1123.0 607.5 L1124.0 607.5 L1125.0 607.5 L1126.0 607.5 L1127.0 607.5 L1128.0 607.5 L1129.0 607.5 L1130.0 607.5 L1131.0 607.5 L1132.0 607.5 L1133.0 607.5 L1134.0 607.5 L1135.0 607.5 L1136.0 607.5 L1137.0 607.5 L1138.0 607.5 L1139.0 607.5 L1140.0 607.5 L1141.0 607.5 L1142.0 607.5 L1143.0 607.5 L1144.0 607.5 L1145.0 607.5 L1146.0 607.5 L1147.0 607.5 L1148.0 607.5 L1149.0 607.5 L1150.0 607.5 L1151.0 607.5 L1152.0 607.5 L1153.0 607.5 L1154.0 607.5 L1155.0 607.5 L1156.0 607.5 L1157.0 607.5 L1158.0 607.5 L1159.0 607.5 L1160.0 607.5 L1161.0 607.5 L1162.0 607.5 L1163.0 607.5 L1164.0 607.5 L1165.0 607.5 L1166.0 607.5 L1167.0 607.5 L1168.0 607.5 L1169.0 607.5 L1170.0 607.5 L1171.0 607.5 L1172.0 607.5 L1173.0 607.5 L1174.0 607.5 L1175.0 607.5 L1176.0 607.5 L1177.0 607.5 L1178.0 607.5 L1179.0 607.5 L1180.0 607.5 L1181.0 607.5 L1182.0 607.5 L1183.0 607.5 L1184.0 607.5 L1185.0 607.5 L1186.0 607.5 L1187.0 607.5 L1188.0 607.5 L1189.0 607.5 L1190.0 607.5 L1191.0 607.5 L1192.0 607.5 L1193.0 607.5 L1194.0 607.5 L1195.0 607.5 L1196.0 607.5 L1197.0 607.5 L1198.0 607.5 L1199.0 607.5 L1200.0 607.5 L1201.0 607.5 L1202.0 607.5 L1203.0 607.5 L1204.0 607.5 L1205.0 607.5 L1206.0 607.5 L1207.0 607.5 L1208.0 607.5 L1209.0 607.5 L1210.0 607.5 L1211.0 607.5 L1212.0 607.5 L1213.0 607.5 L1214.0 607.5 L1215.0 607.5 L1216.0 607.5 L1217.0 607.5 L1218.0 607.5 L1219.0 607.5 L1220.0 607.5 L1221.0 607.5 L1222.0 607.5 L1223.0 607.5 L1224.0 607.5 L1225.0 607.5 L1226.0 607.5 L1227.0 607.5 L1228.0 607.5 L1229.0 607.5 L1230.0 607.5 L1231.0 607.5 L1232.0 607.5 L1232.0 607.5 L1233.0 607.5 L1233.0 609.8 L1234.0 609.8 L1234.0 611.6 L1235.0 611.6 L1235.0 613.0 L1236.0 613.0 L1236.0 613.9 L1237.0 613.9 L1237.0 615.0 L1238.0 615.0 L1238.0 615.7 L1239.0 615.7 L1239.0 615.6 L1240.0 615.6 L1240.0 617.0 L1241.0 617.0 L1241.0 618.0 L1242.0 618.0 L1242.0 619.9 L1243.0 619.9 L1243.0 621.5 L1244.0 621.5 L1244.0 623.0 L1245.0 623.0 L1245.0 623.9 L1246.0 623.9 L1246.0 626.9 L1247.0 626.9 L1247.0 627.5 L1248.0 627.5 L1248.0 629.0 L1249.0 629.0 L1249.0 630.1 L1250.0 630.1 L1250.0 629.3 L1251.0 629.3 L1251.0 630.4 L1252.0 630.4 L1252.0 631.7 L1253.0 631.7 L1253.0 630.3 L1254.0 630.3 L1254.0 632.0 L1255.0 632.0 L1255.0 633.0 L1256.0 633.0 L1256.0 631.9 L1257.0 631.9 L1257.0 632.5 L1258.0 632.5 L1258.0 633.1 L1259.0 633.1 L1259.0 633.8 L1260.0 633.8 L1260.0 633.2 L1261.0 633.2 L1261.0 634.4 L1262.0 634.4 L1262.0 633.2 L1263.0 633.2 L1263.0 630.0 L1264.0 630.0 L1264.0 629.7 L1265.0 629.7 L1265.0 630.2 L1266.0 630.2 L1266.0 628.7 L1267.0 628.7 L1267.0 628.9 L1268.0 628.9 L1268.0 628.5 L1269.0 628.5 L1269.0 628.5 L1270.0 628.5 L1270.0 628.6 L1271.0 628.6 L1271.0 627.7 L1272.0 627.7 L1272.0 627.4 L1273.0 627.4 L1273.0 629.2 L1274.0 629.2 L1274.0 628.4 L1275.0 628.4 L1275.0 629.5 L1276.0 629.5 L1276.0 629.1 L1277.0 629.1 L1277.0 628.3 L1278.0 628.3 L1278.0 629.5 L1279.0 629.5 L1279.0 626.6 L1280.0 626.6 L1280.0 629.0 L1281.0 629.0 L1281.0 627.6 L1282.0 627.6 L1282.0 626.4 L1283.0 626.4 L1283.0 626.0 L1284.0 626.0 L1284.0 624.3 L1285.0 624.3 L1285.0 623.7 L1286.0 623.7 L1286.0 622.4 L1287.0 622.4 L1287.0 621.5 L1288.0 621.5 L1288.0 622.4 L1289.0 622.4 L1289.0 622.0 L1290.0 622.0 L1290.0 620.6 L1291.0 620.6 L1291.0 621.0 L1292.0 621.0 L1292.0 621.0 L1293.0 621.0 L1293.0 620.5 L1294.0 620.5 L1294.0 618.0 L1295.0 618.0 L1295.0 619.4 L1296.0 619.4 L1296.0 619.7 L1297.0 619.7 L1297.0 618.4 L1298.0 618.4 L1298.0 617.9 L1299.0 617.9 L1299.0 617.5 L1300.0 617.5 L1300.0 617.0 L1301.0 617.0 L1301.0 617.2 L1302.0 617.2 L1302.0 613.8 L1303.0 613.8 L1303.0 616.6 L1304.0 616.6 L1304.0 616.9 L1305.0 616.9 L1305.0 612.6 L1306.0 612.6 L1306.0 616.0 L1307.0 616.0 L1307.0 615.1 L1308.0 615.1 L1308.0 616.2 L1309.0 616.2 L1309.0 614.7 L1310.0 614.7 L1310.0 615.9 L1311.0 615.9 L1311.0 614.4 L1312.0 614.4 L1312.0 615.0 L1313.0 615.0 L1313.0 615.0 L1314.0 615.0 L1314.0 616.4 L1315.0 616.4 L1315.0 616.6 L1316.0 616.6 L1316.0 616.0 L1317.0 616.0 L1317.0 615.7 L1318.0 615.7 L1318.0 616.7 L1319.0 616.7 L1319.0 617.2 L1320.0 617.2 L1320.0 618.0 L1321.0 618.0 L1321.0 619.1 L1322.0 619.1 L1322.0 618.8 L1323.0 618.8 L1323.0 618.2 L1324.0 618.2 L1324.0 620.2 L1325.0 620.2 L1325.0 620.6 L1326.0 620.6 L1326.0 617.3 L1327.0 617.3 L1327.0 620.4 L1328.0 620.4 L1328.0 621.0 L1329.0 621.0 L1329.0 621.1 L1330.0 621.1 L1330.0 620.9 L1331.0 620.9 L1331.0 620.7 L1332.0 620.7 L1332.0 619.7 L1333.0 619.7 L1333.0 621.5 L1334.0 621.5 L1334.0 621.6 L1335.0 621.6 L1335.0 621.6 L1336.0 621.6 L1336.0 622.2 L1337.0 622.2 L1337.0 623.3 L1338.0 623.3 L1338.0 625.4 L1339.0 625.4 L1339.0 625.8 L1340.0 625.8 L1340.0 627.0 L1341.0 627.0 L1341.0 627.7 L1342.0 627.7 L1342.0 627.8 L1343.0 627.8 L1343.0 626.6 L1344.0 626.6 L1344.0 629.5 L1345.0 629.5 L1345.0 630.5 L1346.0 630.5 L1346.0 632.0 L1347.0 632.0 L1347.0 632.5 L1348.0 632.5 L1348.0 632.7 L1349.0 632.7 L1349.0 633.3 L1350.0 633.3 L1350.0 632.8 L1351.0 632.8 L1351.0 633.0 L1352.0 633.0 L1352.0 634.0 L1353.0 634.0 L1353.0 633.9 L1354.0 633.9 L1354.0 634.2 L1355.0 634.2 L1355.0 636.4 L1356.0 636.4 L1356.0 636.3 L1357.0 636.3 L1357.0 637.3 L1358.0 637.3 L1358.0 633.6 L1359.0 633.6 L1359.0 636.6 L1360.0 636.6 L1360.0 638.0 L1361.0 638.0 L1361.0 637.7 L1362.0 637.7 L1362.0 638.4 L1363.0 638.4 L1363.0 638.4 L1364.0 638.4 L1364.0 639.2 L1365.0 639.2 L1365.0 639.2 L1366.0 639.2 L1366.0 639.2 L1367.0 639.2 L1367.0 636.5 L1368.0 636.5 L1368.0 639.1 L1369.0 639.1 L1369.0 639.0 L1370.0 639.0 L1370.0 639.0 L1371.0 639.0 L1371.0 638.7 L1372.0 638.7 L1372.0 638.4 L1373.0 638.4 L1373.0 637.5 L1374.0 637.5 L1374.0 638.0 L1375.0 638.0 L1375.0 635.0 L1376.0 635.0 L1376.0 634.5 L1377.0 634.5 L1377.0 631.3 L1378.0 631.3 L1378.0 629.0 L1379.0 629.0 L1379.0 628.3 L1380.0 628.3 L1380.0 628.2 L1381.0 628.2 L1381.0 627.1 L1382.0 627.1 L1382.0 628.2 L1383.0 628.2 L1383.0 627.2 L1384.0 627.2 L1384.0 626.0 L1385.0 626.0 L1385.0 627.2 L1386.0 627.2 L1386.0 626.0 L1387.0 626.0 L1387.0 624.8 L1388.0 624.8 L1388.0 623.7 L1389.0 623.7 L1389.0 624.9 L1390.0 624.9 L1390.0 624.2 L1391.0 624.2 L1391.0 621.8 L1392.0 621.8 L1392.0 622.0 L1393.0 622.0 L1393.0 621.5 L1394.0 621.5 L1394.0 621.6 L1395.0 621.6 L1395.0 621.3 L1396.0 621.3 L1396.0 619.4 L1397.0 619.4 L1397.0 619.0 L1398.0 619.0 L1398.0 620.0 L1399.0 620.0 L1399.0 619.0 L1400.0 619.0 L1400.0 618.1 L1401.0 618.1 L1401.0 621.2 L1402.0 621.2 L1402.0 622.8 L1403.0 622.8 L1403.0 625.0 L1404.0 625.0 L1404.0 624.4 L1405.0 624.4 L1405.0 624.7 L1406.0 624.7 L1406.0 624.0 L1407.1 624.0 L1407.1 623.7 L1408.2 623.7 L1408.2 624.3 L1409.3 654.0 L1409.3 654.0 Z" fill="#537eb6"/>
<rect x="774" y="15.9" width="25.1" height="637.6" fill="#b4b4b4" fill-opacity="0.2"/>
<rect x="774" y="15.9" width="25.1" height="637.6" fill="none" stroke="#565656" stroke-width="1.9"/>
<rect x="163.6" y="668.8" width="1246" height="26" fill="#172358"/>
<text x="153.7" y="717.2" class="tl" style="font-size:17.6px">17</text>
<text x="163.4" y="717.2" class="tl" style="text-anchor:start;font-size:17.6px">7459366</text>
<text x="734.6" y="717.2" class="tl" style="text-anchor:middle;font-size:17.6px">ZBTB4</text>
<text x="1409" y="717.2" class="tl" style="font-size:17.6px">7466763</text>
<text x="65.3" y="957.8" class="big">B</text>
<path d="M117 1038 H140" stroke="#111" stroke-width="4" stroke-linecap="round"/>
<path d="M144.5 1019.7 H274.9 A10.3 18.1 0 0 1 274.9 1055.9 H144.5 A10.3 18.1 0 0 1 144.5 1019.7 Z" fill="url(#gG)" stroke="#111" stroke-width="2.5"/><ellipse cx="274.9" cy="1037.8" rx="10.3" ry="18.1" fill="url(#rG)" stroke="#111" stroke-width="2.5"/>
<path d="M274 1038 H304" stroke="#111" stroke-width="4" stroke-linecap="round"/>
<text transform="translate(148.2 1044) scale(0.94 1)" class="cyt" style="font-size:18.7px">T<tspan dx="1.6">7 promoter</tspan></text>
<path d="M319.3 1010.8 H516.8 A16.0 26.9 0 0 1 516.8 1064.6 H319.3 A16.0 26.9 0 0 1 319.3 1010.8 Z" fill="url(#gB)" stroke="#111" stroke-width="2.5"/><ellipse cx="516.8" cy="1037.7" rx="16.0" ry="26.9" fill="url(#rB)" stroke="#111" stroke-width="2.5"/>
<path d="M517 1038 H556" stroke="#111" stroke-width="4" stroke-linecap="round"/>
<text transform="translate(318.6 1045.6) scale(0.975 1)" class="cyt" style="font-size:21.4px">Renilia luciferase</text>
<path d="M566.2 1018.5 H708.3 A11.2 19.2 0 0 1 708.3 1056.9 H566.2 A11.2 19.2 0 0 1 566.2 1018.5 Z" fill="url(#gL)" stroke="#111" stroke-width="2.5"/><ellipse cx="708.3" cy="1037.7" rx="11.2" ry="19.2" fill="url(#rL)" stroke="#111" stroke-width="2.5"/>
<path d="M583.2 1018.5 A11.2 19.2 0 0 0 583.2 1056.9 H595.4 A11.2 19.2 0 0 1 595.4 1018.5 Z" fill="url(#gBand)"/>
<path d="M595.4 1018.5 A11.2 19.2 0 0 0 595.4 1056.9 H607.8 A11.2 19.2 0 0 1 607.8 1018.5 Z" fill="url(#gBand)"/>
<path d="M670.0 1018.5 A11.2 19.2 0 0 0 670.0 1056.9 H682.0 A11.2 19.2 0 0 1 682.0 1018.5 Z" fill="url(#gBand)"/>
<path d="M583.2 1018.5 A11.2 19.2 0 0 0 583.2 1056.9" fill="none" stroke="#111" stroke-width="2.4"/>
<path d="M595.4 1018.5 A11.2 19.2 0 0 0 595.4 1056.9" fill="none" stroke="#111" stroke-width="2.4"/>
<path d="M607.8 1018.5 A11.2 19.2 0 0 0 607.8 1056.9" fill="none" stroke="#111" stroke-width="2.4"/>
<path d="M670.0 1018.5 A11.2 19.2 0 0 0 670.0 1056.9" fill="none" stroke="#111" stroke-width="2.4"/>
<path d="M682.0 1018.5 A11.2 19.2 0 0 0 682.0 1056.9" fill="none" stroke="#111" stroke-width="2.4"/>
<path d="M566.2 1018.5 H708.3 M566.2 1056.9 H708.3" stroke="#111" stroke-width="2.5"/>
<path d="M707 1038 H744" stroke="#111" stroke-width="4" stroke-linecap="round"/>
<text x="634.9" y="1010.8" class="lab" style="font-size:17.7px;text-anchor:middle">ZBTB4 CDS</text>
<path d="M585.8 1061.9 L495.3 1082.9" fill="none" stroke="#111" stroke-width="2" stroke-linecap="round"/><path d="M489.5 1084.2 L496.9 1078.6 L495.3 1082.9 L498.6 1086.0 Z" fill="#111"/>
<path d="M598.0 1061.5 L583.9 1079.5" fill="none" stroke="#111" stroke-width="2" stroke-linecap="round"/><path d="M580.2 1084.2 L582.5 1075.2 L583.9 1079.5 L588.4 1079.9 Z" fill="#111"/>
<path d="M674.0 1061.7 L681.9 1078.3" fill="none" stroke="#111" stroke-width="2" stroke-linecap="round"/><path d="M684.5 1083.7 L677.4 1077.7 L681.9 1078.3 L684.3 1074.4 Z" fill="#111"/>
<text x="511.8" y="1101.1" class="seq">WT: AGACT</text><text x="511.8" y="1117.7" class="seq">MUT: AGTCT</text><rect x="485.4" y="1089.4" width="10.2" height="29" fill="none" stroke="#d23a3a" stroke-width="1.1"/>
<text x="615.3" y="1101.1" class="seq">WT: TGACC</text><text x="615.3" y="1117.7" class="seq">MUT: TGTCC</text><rect x="588.3" y="1089.4" width="9.3" height="29" fill="none" stroke="#d23a3a" stroke-width="1.1"/>
<text x="727.4" y="1101.1" class="seq">WT: GGACC</text><text x="727.4" y="1117.7" class="seq">MUT: GGTCC</text><rect x="700.4" y="1089.4" width="9.7" height="29" fill="none" stroke="#d23a3a" stroke-width="1.1"/>
<text x="811.5" y="817.3" class="big">C</text>
<path d="M933.8 865.6 V1096.6 H1266.6" fill="none" stroke="#111" stroke-width="2.4"/>
<path d="M927.4 1096.6 H934" stroke="#111" stroke-width="2.4"/>
<text x="925" y="1102.5" class="ctl">0.0</text>
<path d="M927.4 1039.1 H934" stroke="#111" stroke-width="2.4"/>
<text x="925" y="1045.0" class="ctl">0.5</text>
<path d="M927.4 981.7 H934" stroke="#111" stroke-width="2.4"/>
<text x="925" y="987.6" class="ctl">1.0</text>
<path d="M927.4 924.2 H934" stroke="#111" stroke-width="2.4"/>
<text x="925" y="930.1" class="ctl">1.5</text>
<path d="M927.4 866.8 H934" stroke="#111" stroke-width="2.4"/>
<text x="925" y="872.7" class="ctl">2.0</text>
<path d="M1016.5 1096 V1102.6" stroke="#111" stroke-width="2.4"/>
<path d="M1182.8 1096 V1102.6" stroke="#111" stroke-width="2.4"/>
<text transform="translate(891.8 1123.5) rotate(-90)" class="cyl">Renilla/Firefly luciferase activity</text>
<rect x="964.9" y="959.2" width="41.5" height="137.3" fill="#fff" stroke="#111" stroke-width="3.3"/>
<rect x="1027.2" y="1016.9" width="41.3" height="79.6" fill="#fff" stroke="#111" stroke-width="3.3"/>
<rect x="1131.0" y="948.8" width="41.3" height="147.8" fill="#fff" stroke="#111" stroke-width="3.3"/>
<rect x="1193.1" y="979.9" width="41.3" height="116.6" fill="#fff" stroke="#111" stroke-width="3.3"/>
<path d="M975.5 953.8 H996.1 M975.5 964.5 H996.1 M985.8 953.8 V964.5" stroke="#111" stroke-width="3" fill="none"/>
<path d="M972.4 949.5 L976.9 954.0 L972.4 958.5 L967.9 954.0 Z" fill="#111"/>
<path d="M999.0 954.1 L1003.5 958.6 L999.0 963.1 L994.5 958.6 Z" fill="#111"/>
<path d="M985.6 960.9 L990.1 965.4 L985.6 969.9 L981.1 965.4 Z" fill="#111"/>
<path d="M1037.6 1004.1 H1058.2 M1037.6 1030.0 H1058.2 M1047.9 1004.1 V1030.0" stroke="#111" stroke-width="3" fill="none"/>
<circle cx="1040.6" cy="1005.6" r="4.4" fill="none" stroke="#111" stroke-width="3.2"/>
<circle cx="1055.3" cy="1013.8" r="4.4" fill="none" stroke="#111" stroke-width="3.2"/>
<circle cx="1047.8" cy="1031.0" r="4.4" fill="none" stroke="#111" stroke-width="3.2"/>
<path d="M1141.0 928.0 H1161.6 M1141.0 970.0 H1161.6 M1151.3 928.0 V970.0" stroke="#111" stroke-width="3" fill="none"/>
<path d="M1151.3 920.8 L1155.8 925.3 L1151.3 929.8 L1146.8 925.3 Z" fill="#111"/>
<path d="M1158.1 950.9 L1162.6 955.4 L1158.1 959.9 L1153.6 955.4 Z" fill="#111"/>
<path d="M1144.6 961.2 L1149.1 965.7 L1144.6 970.2 L1140.1 965.7 Z" fill="#111"/>
<path d="M1203.4 962.3 H1224.0 M1203.4 997.5 H1224.0 M1213.7 962.3 V997.5" stroke="#111" stroke-width="3" fill="none"/>
<circle cx="1206.3" cy="964.6" r="4.4" fill="none" stroke="#111" stroke-width="3.2"/>
<circle cx="1220.9" cy="976.2" r="4.4" fill="none" stroke="#111" stroke-width="3.2"/>
<circle cx="1213.7" cy="998.5" r="4.4" fill="none" stroke="#111" stroke-width="3.2"/>
<path d="M1047.2 978.4 V877.4 H1213 V938.5" fill="none" stroke="#111" stroke-width="2.4"/>
<text x="1129" y="882.2" class="star" text-anchor="middle">*</text>
<path d="M1300.3 877.9 L1304.9 882.5 L1300.3 887.1 L1295.7 882.5 Z" fill="#111"/>
<circle cx="1300.3" cy="909" r="4.6" fill="none" stroke="#111" stroke-width="3"/>
<text x="1325.2" y="888.7" class="leg">Control</text>
<text x="1325.2" y="915" class="leg" style="letter-spacing:-0.7px">METTL3</text>
<text transform="translate(1019.5 1115.5) rotate(-47)" class="xl">ZBTB4-WT</text>
<text transform="translate(1183.5 1117) rotate(-47)" class="xl">ZBTB4-MUT</text>
</svg>
</body></html>
